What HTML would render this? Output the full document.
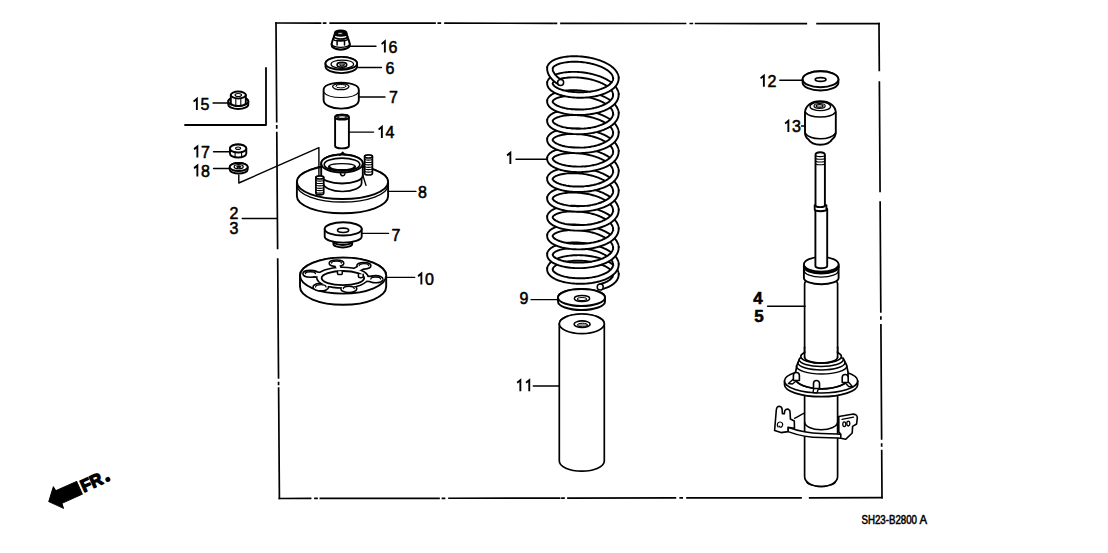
<!DOCTYPE html>
<html><head><meta charset="utf-8"><style>
html,body{margin:0;padding:0;background:#fff;}
svg{display:block;}
text{font-family:"Liberation Sans",sans-serif;fill:#000;stroke:#000;stroke-width:0.55px;}
</style></head><body>
<svg width="1108" height="553" viewBox="0 0 1108 553" stroke="#000" fill="none" stroke-linecap="round" stroke-linejoin="round">
<rect x="0" y="0" width="1108" height="553" fill="#fff" stroke="none"/>
<path d="M276.00,23.00 L320.50,23.05 M323.60,23.06 L325.60,23.06 M330.20,23.06 L435.00,23.18 M438.30,23.19 L440.30,23.19 M445.00,23.20 L552.60,23.32 M554.40,23.32 L556.40,23.33 M561.00,23.33 L685.50,23.48 M690.30,23.48 L692.30,23.48 M695.60,23.49 L806.30,23.62 M817.10,23.63 L879.00,23.70 " stroke-width="1.7" fill="none" stroke-linecap="square"/>
<path d="M279.40,498.50 L310.60,498.46 M315.00,498.45 L317.00,498.45 M320.40,498.45 L439.00,498.29 M442.50,498.28 L444.50,498.28 M449.00,498.27 L559.60,498.13 M562.00,498.12 L564.00,498.12 M568.00,498.12 L675.40,497.97 M680.20,497.97 L682.20,497.97 M687.00,497.96 L801.00,497.81 M809.70,497.80 L882.00,497.70 " stroke-width="1.7" fill="none" stroke-linecap="square"/>
<path d="M276.00,23.00 L276.71,121.70 M276.74,125.80 L276.75,127.80 M276.78,132.60 L277.61,248.30 M277.69,259.10 L278.54,378.00 M278.57,382.50 L278.58,384.50 M278.61,388.00 L279.40,498.50 " stroke-width="1.7" fill="none" stroke-linecap="square"/>
<path d="M879.00,23.70 L879.30,70.40 M879.37,82.00 L879.90,166.00 M879.91,167.00 L879.92,169.00 M879.93,170.00 L880.06,191.30 M880.13,202.20 L880.82,311.90 M880.86,317.00 L880.87,319.00 M880.91,324.90 L881.63,439.00 M881.66,444.00 L881.67,446.00 M881.70,450.70 L882.00,497.70 " stroke-width="1.7" fill="none" stroke-linecap="square"/>
<path d="M266,68 L266,125 L185,125" stroke-width="1.8" fill="none"/>
<path d="M228.3,101.5 L228.3,104.5 A10,4.5 0 0 0 248.3,104.5 L248.3,101.5 A10,4.5 0 0 0 228.3,101.5 Z" stroke-width="1.9" fill="#fff"/><ellipse cx="238.3" cy="101.5" rx="10" ry="4.5" stroke-width="1.9" fill="#fff"/>
<path d="M230.8,95 L230.8,103 A7.5,3 0 0 0 245.8,103 L245.8,95 Z" stroke-width="1.9" fill="#fff"/>
<ellipse cx="238.3" cy="95" rx="7.5" ry="3.5" stroke-width="1.9" fill="#fff"/>
<ellipse cx="238.3" cy="95" rx="3.2" ry="1.5" stroke-width="1.2" fill="#fff"/>
<path d="M235.8,98.5 L235.8,105.5 M240.8,98.5 L240.8,105.5" stroke-width="1.1" fill="none"/>
<path d="M229.9,148.5 L229.9,153.5 A8.2,4 0 0 0 246.3,153.5 L246.3,148.5 A8.2,4 0 0 0 229.9,148.5 Z" stroke-width="1.9" fill="#fff"/><ellipse cx="238.1" cy="148.5" rx="8.2" ry="4" stroke-width="1.9" fill="#fff"/>
<ellipse cx="238.1" cy="148.2" rx="2.5" ry="1.2" stroke-width="1.1" fill="#fff"/>
<path d="M235.1,151.5 L235.1,157 M241.6,151.5 L241.6,157" stroke-width="1.1" fill="none"/>
<path d="M229.7,167 L229.7,169.5 A9,4 0 0 0 247.7,169.5 L247.7,167 A9,4 0 0 0 229.7,167 Z" stroke-width="1.9" fill="#fff"/><ellipse cx="238.7" cy="167" rx="9" ry="4" stroke-width="1.9" fill="#fff"/>
<ellipse cx="238.7" cy="166.8" rx="4.5" ry="2.1" stroke-width="1.3" fill="#fff"/>
<ellipse cx="238.7" cy="166.8" rx="2" ry="1" stroke-width="1.0" fill="#000"/>
<path d="M334.9,33.5 C334.2,37 332.2,40 331.5,44.5 A9.2,5.2 0 0 0 349.9,44.5 C349.2,40 347.2,37 346.5,33.5 Z" stroke-width="2.0" fill="#fff"/>
<ellipse cx="340.7" cy="33.2" rx="5.8" ry="2.6" stroke-width="2.0" fill="#000"/>
<ellipse cx="340.4" cy="33.4" rx="2.6" ry="0.9" stroke-width="0.8" fill="#fff"/>
<path d="M333.8,36.4 A6.9,2.6 0 0 0 347.6,36.4" stroke-width="1.6" fill="none"/>
<path d="M333.1,38.6 A7.6,2.6 0 0 0 348.3,38.6" stroke-width="1.3" fill="none"/>
<path d="M331.7,44.2 A9,3.2 0 0 0 349.7,44.2" stroke-width="1.4" fill="none"/>
<path d="M331.6,46 A9.1,3.3 0 0 0 349.8,46" stroke-width="1.3" fill="none"/>
<path d="M337.09999999999997,40.2 L337.09999999999997,45 M344.5,40.2 L344.5,45 M337.09999999999997,40.3 L344.5,40.3" stroke-width="1.5" fill="none"/>
<path d="M325.5,63.4 L325.5,66.6 A15.8,6.5 0 0 0 357.1,66.6 L357.1,63.4 A15.8,6.5 0 0 0 325.5,63.4 Z" stroke-width="1.9" fill="#fff"/><ellipse cx="341.3" cy="63.4" rx="15.8" ry="6.5" stroke-width="1.9" fill="#fff"/>
<ellipse cx="342.3" cy="64.2" rx="11.3" ry="4.1" stroke-width="1.2" fill="#fff"/>
<ellipse cx="341.9" cy="64.7" rx="4.8" ry="2.4" stroke-width="1.7" fill="#fff"/>
<ellipse cx="341.9" cy="64.9" rx="2.6" ry="0.9" stroke-width="1.0" fill="#fff"/>
<path d="M323.59999999999997,90 C323.59999999999997,86 329.2,83 341.2,82.6 C353.2,83 358.8,86 358.8,90 L358.8,100 C358.8,105 351.2,108.6 341.2,108.6 C331.2,108.6 323.59999999999997,105 323.59999999999997,100 Z" stroke-width="1.9" fill="#fff"/>
<path d="M323.59999999999997,92 C326.2,96 333.2,97.5 341.2,97.5 C349.2,97.5 356.2,96 358.8,92" stroke-width="1.2" fill="none"/>
<ellipse cx="340.8" cy="86.6" rx="8.2" ry="3.1" stroke-width="1.3" fill="#fff"/>
<ellipse cx="340.8" cy="86.2" rx="5" ry="1.7" stroke-width="1.0" fill="#fff"/>
<path d="M335.1,117.2 L335.1,146 A6.9,2.4 0 0 0 348.9,146 L348.9,117.2 A6.9,2.4 0 0 0 335.1,117.2 Z" stroke-width="1.9" fill="#fff"/><ellipse cx="342" cy="117.2" rx="6.9" ry="2.4" stroke-width="1.9" fill="#fff"/>
<ellipse cx="342" cy="117" rx="4.3" ry="1.4" stroke-width="1.2" fill="#fff"/>
<path d="M296.9,182 L296.9,196.3 A45.6,17 0 0 0 388.1,196.3 L388.1,182 A45.6,17 0 0 0 296.9,182 Z" stroke-width="1.9" fill="#fff"/><ellipse cx="342.5" cy="182" rx="45.6" ry="17" stroke-width="1.9" fill="#fff"/>
<path d="M296.9,185 A45.6,17 0 0 0 388.1,185" stroke-width="1.3" fill="none"/>
<path d="M323.2,178 L323.2,183 A19.2,8.5 0 0 0 361.6,183 L361.6,178 Z" stroke-width="1.7" fill="#fff"/>
<path d="M321.2,163.5 L321.2,175.5 A20.8,8 0 0 0 362.8,175.5 L362.8,163.5 A20.8,9 0 0 0 321.2,163.5 Z" stroke-width="1.9" fill="#fff"/><ellipse cx="342" cy="163.5" rx="20.8" ry="9" stroke-width="1.9" fill="#fff"/>
<ellipse cx="342" cy="164.5" rx="17.8" ry="6.4" stroke-width="1.6" fill="#fff"/>
<path d="M329.5,167.3 A12.5,3 0 0 0 354.5,167.3" stroke-width="2.6" fill="none"/>
<path d="M328.5,166.8 A13.5,3.2 0 0 1 355.5,166.8" stroke-width="1.2" fill="none"/>
<path d="M339.8,155.2 L342.7,152.2 L345.2,155" stroke-width="1.4" fill="none"/>
<path d="M340.4,173.5 C341,176.5 344.5,176.5 345,173.5" stroke-width="1.4" fill="none"/>
<path d="M362.8,175.3 L366,185.4" stroke-width="1.4" fill="none"/>
<path d="M364.6,156.5 L364.6,173.5 A3.9,1.5 0 0 0 372.4,173.5 L372.4,156.5 A3.9,1.5 0 0 0 364.6,156.5 Z" stroke-width="1.7" fill="#fff"/><ellipse cx="368.5" cy="156.5" rx="3.9" ry="1.5" stroke-width="1.7" fill="#fff"/>
<path d="M364.6,159 A3.9,1.1 0 0 0 372.4,159" stroke-width="1.2" fill="none"/>
<path d="M364.6,161.4 A3.9,1.1 0 0 0 372.4,161.4" stroke-width="1.2" fill="none"/>
<path d="M364.6,163.8 A3.9,1.1 0 0 0 372.4,163.8" stroke-width="1.2" fill="none"/>
<path d="M364.6,166.2 A3.9,1.1 0 0 0 372.4,166.2" stroke-width="1.2" fill="none"/>
<path d="M364.6,168.6 A3.9,1.1 0 0 0 372.4,168.6" stroke-width="1.2" fill="none"/>
<path d="M364.6,171 A3.9,1.1 0 0 0 372.4,171" stroke-width="1.2" fill="none"/>
<path d="M315.9,177.5 L315.9,193.3 A3.9,1.5 0 0 0 323.7,193.3 L323.7,177.5 A3.9,1.5 0 0 0 315.9,177.5 Z" stroke-width="1.7" fill="#fff"/><ellipse cx="319.8" cy="177.5" rx="3.9" ry="1.5" stroke-width="1.7" fill="#fff"/>
<path d="M315.9,180 A3.9,1.1 0 0 0 323.7,180" stroke-width="1.2" fill="none"/>
<path d="M315.9,182.4 A3.9,1.1 0 0 0 323.7,182.4" stroke-width="1.2" fill="none"/>
<path d="M315.9,184.8 A3.9,1.1 0 0 0 323.7,184.8" stroke-width="1.2" fill="none"/>
<path d="M315.9,187.2 A3.9,1.1 0 0 0 323.7,187.2" stroke-width="1.2" fill="none"/>
<path d="M315.9,189.6 A3.9,1.1 0 0 0 323.7,189.6" stroke-width="1.2" fill="none"/>
<path d="M315.9,192 A3.9,1.1 0 0 0 323.7,192" stroke-width="1.2" fill="none"/>
<path d="M333.4,241.5 L333.4,244 A9.4,3.5 0 0 0 352.2,244 L352.2,241.5 A9.4,3.5 0 0 0 333.4,241.5 Z" stroke-width="1.9" fill="#fff"/><ellipse cx="342.8" cy="241.5" rx="9.4" ry="3.5" stroke-width="1.9" fill="#fff"/>
<path d="M324.7,229 L324.7,236.5 A18.5,6.1 0 0 0 361.7,236.5 L361.7,229 Z" stroke-width="1.9" fill="#fff"/>
<ellipse cx="343.2" cy="228.9" rx="18.5" ry="6.6" stroke-width="1.9" fill="#fff"/>
<ellipse cx="343.1" cy="230.3" rx="5.6" ry="2.2" stroke-width="1.6" fill="#fff"/>
<path d="M300,275.6 L300,286.8 A43.1,18 0 0 0 386.2,286.8 L386.2,275.6 A43.1,18 0 0 0 300,275.6 Z" stroke-width="1.9" fill="#fff"/><ellipse cx="343.1" cy="275.6" rx="43.1" ry="18" stroke-width="1.9" fill="#fff"/>
<ellipse cx="342.5" cy="277.6" rx="25" ry="9.6" fill="#000" stroke="#000" stroke-width="3.2"/>
<line x1="339.20" y1="269.74" x2="336.50" y2="263.30" stroke="#000" stroke-width="6.80" stroke-linecap="butt"/>
<ellipse cx="336.5" cy="263.3" rx="6.5" ry="2.5" fill="#000" stroke="#000" stroke-width="3.2"/>
<line x1="354.27" y1="271.11" x2="363.90" y2="265.80" stroke="#000" stroke-width="6.80" stroke-linecap="butt"/>
<ellipse cx="363.9" cy="265.8" rx="6.2" ry="2.5" fill="#000" stroke="#000" stroke-width="3.2"/>
<line x1="324.84" y1="275.51" x2="310.40" y2="273.80" stroke="#000" stroke-width="6.80" stroke-linecap="butt"/>
<ellipse cx="310.4" cy="273.8" rx="6.7" ry="2.6" fill="#000" stroke="#000" stroke-width="3.2"/>
<line x1="360.76" y1="278.48" x2="375.70" y2="279.20" stroke="#000" stroke-width="6.80" stroke-linecap="butt"/>
<ellipse cx="375.7" cy="279.2" rx="6.5" ry="2.8" fill="#000" stroke="#000" stroke-width="3.2"/>
<line x1="330.56" y1="282.83" x2="320.80" y2="287.10" stroke="#000" stroke-width="6.80" stroke-linecap="butt"/>
<ellipse cx="320.8" cy="287.1" rx="7.0" ry="3.0" fill="#000" stroke="#000" stroke-width="3.2"/>
<line x1="345.97" y1="283.70" x2="348.80" y2="288.70" stroke="#000" stroke-width="6.80" stroke-linecap="butt"/>
<ellipse cx="348.8" cy="288.7" rx="7.2" ry="3.0" fill="#000" stroke="#000" stroke-width="3.2"/>
<ellipse cx="342.5" cy="277.6" rx="25" ry="9.6" fill="#fff" stroke="none"/>
<line x1="339.20" y1="269.74" x2="336.50" y2="263.30" stroke="#fff" stroke-width="3.6" stroke-linecap="butt"/>
<ellipse cx="336.5" cy="263.3" rx="6.5" ry="2.5" fill="#fff" stroke="none"/>
<line x1="354.27" y1="271.11" x2="363.90" y2="265.80" stroke="#fff" stroke-width="3.6" stroke-linecap="butt"/>
<ellipse cx="363.9" cy="265.8" rx="6.2" ry="2.5" fill="#fff" stroke="none"/>
<line x1="324.84" y1="275.51" x2="310.40" y2="273.80" stroke="#fff" stroke-width="3.6" stroke-linecap="butt"/>
<ellipse cx="310.4" cy="273.8" rx="6.7" ry="2.6" fill="#fff" stroke="none"/>
<line x1="360.76" y1="278.48" x2="375.70" y2="279.20" stroke="#fff" stroke-width="3.6" stroke-linecap="butt"/>
<ellipse cx="375.7" cy="279.2" rx="6.5" ry="2.8" fill="#fff" stroke="none"/>
<line x1="330.56" y1="282.83" x2="320.80" y2="287.10" stroke="#fff" stroke-width="3.6" stroke-linecap="butt"/>
<ellipse cx="320.8" cy="287.1" rx="7.0" ry="3.0" fill="#fff" stroke="none"/>
<line x1="345.97" y1="283.70" x2="348.80" y2="288.70" stroke="#fff" stroke-width="3.6" stroke-linecap="butt"/>
<ellipse cx="348.8" cy="288.7" rx="7.2" ry="3.0" fill="#fff" stroke="none"/>
<path d="M331.62,263.10 A4.88,1.88 0 0 1 341.38,263.10" stroke-width="1.3" fill="none"/>
<path d="M359.25,265.60 A4.65,1.88 0 0 1 368.55,265.60" stroke-width="1.3" fill="none"/>
<path d="M305.38,273.60 A5.03,1.95 0 0 1 315.42,273.60" stroke-width="1.3" fill="none"/>
<path d="M370.82,279.00 A4.88,2.10 0 0 1 380.57,279.00" stroke-width="1.3" fill="none"/>
<path d="M315.55,286.90 A5.25,2.25 0 0 1 326.05,286.90" stroke-width="1.3" fill="none"/>
<path d="M343.40,288.50 A5.40,2.25 0 0 1 354.20,288.50" stroke-width="1.3" fill="none"/>
<ellipse cx="342.9" cy="278.1" rx="21.3" ry="7.1" stroke-width="1.8" fill="#fff"/>
<path d="M337.5,271.2 L337.5,273.4 A2.4,1.2 0 0 0 342.29999999999995,273.4 L342.29999999999995,271.2" stroke-width="1.5" fill="#fff"/>
<path d="M358.40000000000003,274.3 L358.40000000000003,276.5 A2.4,1.2 0 0 0 363.2,276.5 L363.2,274.3" stroke-width="1.5" fill="#fff"/>
<path d="M558,297.5 L558,301.5 A23.5,8.5 0 0 0 605,301.5 L605,297.5 A23.5,8.5 0 0 0 558,297.5 Z" stroke-width="1.9" fill="#fff"/><ellipse cx="581.5" cy="297.5" rx="23.5" ry="8.5" stroke-width="1.9" fill="#fff"/>
<ellipse cx="582" cy="298.5" rx="7.7" ry="3" stroke-width="1.4" fill="#fff"/>
<ellipse cx="582" cy="299" rx="4.5" ry="1.5" stroke-width="1.1" fill="#fff"/>
<path d="M559.3,323.8 L559.3,461 A22.5,10.2 0 0 0 604.3,461 L604.3,323.8 A22.5,9.8 0 0 0 559.3,323.8 Z" stroke-width="1.7" fill="#fff"/><ellipse cx="581.8" cy="323.8" rx="22.5" ry="9.8" stroke-width="1.7" fill="#fff"/>
<ellipse cx="582.1" cy="324.2" rx="8" ry="3.3" stroke-width="1.6" fill="#fff"/>
<ellipse cx="582.4" cy="325" rx="5" ry="1.8" stroke-width="1.0" fill="#999"/>
<path d="M802.6,79.2 L802.6,82.5 A17.9,8 0 0 0 838.4,82.5 L838.4,79.2 A17.9,8 0 0 0 802.6,79.2 Z" stroke-width="1.9" fill="#fff"/><ellipse cx="820.5" cy="79.2" rx="17.9" ry="8" stroke-width="1.9" fill="#fff"/>
<ellipse cx="820.6" cy="79.5" rx="5.3" ry="1.9" stroke-width="1.8" fill="#fff"/>
<path d="M805,113 C805,106 811,101.2 820.3,101.2 C829.5,101.2 835.8,106 835.8,113 L835.8,132 C835.8,136 834,138 832,139.5 C830,143 826,144.7 820.3,144.7 C814.5,144.7 810.5,143 808.5,139.5 C806.5,138 805,136 805,132 Z" stroke-width="1.9" fill="#fff"/>
<ellipse cx="820.3" cy="106.4" rx="10.3" ry="4.3" stroke-width="1.3" fill="#fff"/>
<ellipse cx="819.6" cy="105.9" rx="5.6" ry="2.4" stroke-width="1.2" fill="#fff"/>
<ellipse cx="819.6" cy="105.9" rx="3.4" ry="1.2" stroke-width="1.3" fill="#fff"/>
<path d="M805,112 C808,116 814,117 820.3,117 C826.6,117 832.6,116 835.8,112" stroke-width="1.5" fill="none"/>
<path d="M805,133 C808,137.5 814,138.8 820.3,138.8 C826.6,138.8 832.6,137.5 835.8,133" stroke-width="1.5" fill="none"/>
<path d="M804.6,284 L804.6,476.4 A16.5,10.2 0 0 0 837.6,476.4 L837.6,284 A16.5,7 0 0 0 804.6,284 Z" stroke-width="1.7" fill="#fff"/>
<path d="M806.6,481.5 A14.5,4.8 0 0 0 835.6,481.5" stroke-width="1.2" fill="none"/>
<path d="M804.6,422 A16.5,7.8 0 0 0 837.6,422" stroke-width="1.5" fill="none"/>
<path d="M803.9,264.3 L803.9,278 A17.3,6.3 0 0 0 838.6,278 L838.6,264.3 Z" stroke-width="1.9" fill="#fff"/>
<path d="M804.2,266.5 A17.1,6.6 0 0 0 838.4,266.5" stroke-width="2.6" fill="none"/>
<path d="M804.2,270.5 A17.1,6.6 0 0 0 838.4,270.5" stroke-width="1.3" fill="none"/>
<ellipse cx="821.25" cy="264.3" rx="17.3" ry="7.3" stroke-width="1.7" fill="#fff"/>
<path d="M815.4,209 L815.4,266 A5.9,2.2 0 0 0 827.2,266 L827.2,209 Z" stroke-width="1.9" fill="#fff"/>
<path d="M814.7,205.3 L814.7,209.5 A5.85,1.8 0 0 0 826.4,209.5 L826.4,205.3 Z" stroke-width="1.9" fill="#fff"/>
<path d="M815.5,155 Q815.5,152.2 820.2,152.2 Q824.9,152.2 824.9,155 L824.9,205.5 A4.7,1.6 0 0 1 815.5,205.5 Z" stroke-width="1.9" fill="#fff"/>
<path d="M815.5,155.3 A4.7,1.3 0 0 0 824.9,155.3" stroke-width="1.1" fill="none"/>
<path d="M815.5,158 A4.7,1.3 0 0 0 824.9,158" stroke-width="1.1" fill="none"/>
<path d="M815.5,160.7 A4.7,1.3 0 0 0 824.9,160.7" stroke-width="1.1" fill="none"/>
<path d="M815.5,163.4 A4.7,1.3 0 0 0 824.9,163.4" stroke-width="1.1" fill="none"/>
<path d="M784.5,381 L784.5,384.5 A36.6,12.2 0 0 0 857.7,384.5 L857.7,381 Z" stroke-width="1.7" fill="#fff"/>
<ellipse cx="821.1" cy="381" rx="36.6" ry="12" stroke-width="1.7" fill="#fff"/>
<path d="M799.8,358 L797,365 L795.6,372 L795.6,378.5 A26.2,10.3 0 0 0 848,378.5 L848,372 L846.5,365 L843,358 Z" stroke-width="1.7" fill="#fff"/>
<path d="M795.6,378.5 A26.2,10.3 0 0 0 848,378.5" stroke-width="1.7" fill="none"/>
<path d="M796.3,366 A25.3,8 0 0 0 846.9,366" stroke-width="1.5" fill="none"/>
<path d="M797.8,362.5 A23.6,7.5 0 0 0 845,362.5" stroke-width="1.5" fill="none"/>
<path d="M799.2,359.5 A22,7 0 0 0 843.2,359.5" stroke-width="1.5" fill="none"/>
<ellipse cx="821.1" cy="356.5" rx="20.3" ry="6.5" stroke-width="1.7" fill="#fff"/>
<rect x="805.5" y="348" width="31.2" height="9" fill="#fff" stroke="none"/>
<path d="M804.6,347 L804.6,357 M837.6,347 L837.6,357" stroke-width="1.7" fill="none"/>
<path d="M804.6,357 A16.5,6.2 0 0 0 837.6,357" stroke-width="1.7" fill="none"/>
<path d="M794.0,378.5 L788.4,383.5 L792.4,384.0 L798.8,379.0 Z" stroke-width="1.4" fill="#fff"/>
<path d="M793.4,380.5 L793.4,375.5 A3,3 0 0 1 799.4,375.5 L799.4,380.5 Z" stroke-width="1.6" fill="#fff"/>
<path d="M814.1,386.5 L813.0,392.5 L817.0,393.0 L818.9,387.0 Z" stroke-width="1.4" fill="#fff"/>
<path d="M813.5,388.5 L813.5,383.5 A3,3 0 0 1 819.5,383.5 L819.5,388.5 Z" stroke-width="1.6" fill="#fff"/>
<path d="M842.8000000000001,380.5 L848.7,386.5 L852.7,387.0 L847.6,381.0 Z" stroke-width="1.4" fill="#fff"/>
<path d="M842.2,382.5 L842.2,377.5 A3,3 0 0 1 848.2,377.5 L848.2,382.5 Z" stroke-width="1.6" fill="#fff"/>
<path d="M788,427.3 C800,431.8 810,433.4 821,433.4 C830,433.4 836,434 840.8,434.3 L840.8,438.2 C836,438 830,437.6 821,437.6 C810,437.6 800,436 788,431.6 Z" stroke-width="1.5" fill="#fff"/>
<path d="M774.6,430.5 L776.3,410 Q776.8,406.3 779.4,406.3 Q782,406.6 782.1,409.5 L782.4,413.8 L784.3,413.8 L784.8,410.6 Q786.3,408.5 788.4,409.3 Q790.3,410.3 790.1,413 L790.4,419 L794.3,421 L794.5,428.3 L788,427.3 L788,431.6 L781,432.6 Z" stroke-width="1.6" fill="#fff"/>
<path d="M778,427 C776.5,425 777.5,422 780,422 C782.5,422 783.5,424.5 782,426.5 C781,427.5 779.5,427.5 779,426" stroke-width="1.2" fill="none"/>
<path d="M794.5,418.3 C798,416.6 801,414.8 804.4,413.2" stroke-width="1.4" fill="none"/>
<path d="M838.8,416.5 L852,414.2 Q857.2,413.8 857.3,417.6 L856.6,424 L852.6,426.4 L852.2,433 L845.6,439.3 L840.8,438.2 L840.8,434.3 L838.8,432 Z" stroke-width="1.6" fill="#fff"/>
<ellipse cx="844.3" cy="424.2" rx="1.5" ry="2.4" stroke-width="1.3" fill="#fff"/>
<ellipse cx="848.3" cy="423.6" rx="1.5" ry="2.4" stroke-width="1.3" fill="#fff"/>
<path d="M842,419.3 L853.5,417.2" stroke-width="1.3" fill="none"/>
<path d="M196.86,110.00 L196.86,98.84 L195.26,100.14 Q194.30,101.10 193.50,101.42" stroke-width="1.89" fill="none" stroke-linecap="butt" stroke-linejoin="miter"/><text x="200.40" y="110" font-size="16" font-weight="normal">5</text>
<path d="M197.36,157.60 L197.36,146.44 L195.76,147.74 Q194.80,148.70 194.00,149.02" stroke-width="1.89" fill="none" stroke-linecap="butt" stroke-linejoin="miter"/><text x="200.90" y="157.6" font-size="16" font-weight="normal">7</text>
<path d="M197.36,176.60 L197.36,165.44 L195.76,166.74 Q194.80,167.70 194.00,168.02" stroke-width="1.89" fill="none" stroke-linecap="butt" stroke-linejoin="miter"/><text x="200.90" y="176.6" font-size="16" font-weight="normal">8</text>
<text x="229.50" y="219" font-size="16" font-weight="normal">2</text>
<text x="229.50" y="234.3" font-size="16" font-weight="normal">3</text>
<path d="M384.86,52.50 L384.86,41.34 L383.26,42.64 Q382.30,43.60 381.50,43.92" stroke-width="1.89" fill="none" stroke-linecap="butt" stroke-linejoin="miter"/><text x="388.40" y="52.5" font-size="16" font-weight="normal">6</text>
<text x="385.50" y="73.5" font-size="16" font-weight="normal">6</text>
<text x="389.00" y="102.8" font-size="16" font-weight="normal">7</text>
<path d="M381.86,138.00 L381.86,126.84 L380.26,128.14 Q379.30,129.10 378.50,129.42" stroke-width="1.89" fill="none" stroke-linecap="butt" stroke-linejoin="miter"/><text x="385.40" y="138" font-size="16" font-weight="normal">4</text>
<text x="418.00" y="197.9" font-size="16" font-weight="normal">8</text>
<text x="391.50" y="241.2" font-size="16" font-weight="normal">7</text>
<path d="M421.36,284.60 L421.36,273.44 L419.76,274.74 Q418.80,275.70 418.00,276.02" stroke-width="1.89" fill="none" stroke-linecap="butt" stroke-linejoin="miter"/><text x="424.90" y="284.6" font-size="16" font-weight="normal">0</text>
<path d="M510.36,163.90 L510.36,152.74 L508.76,154.04 Q507.80,155.00 507.00,155.32" stroke-width="1.89" fill="none" stroke-linecap="butt" stroke-linejoin="miter"/>
<text x="519.50" y="304.3" font-size="16" font-weight="normal">9</text>
<path d="M520.36,391.30 L520.36,380.14 L518.76,381.44 Q517.80,382.40 517.00,382.72" stroke-width="1.89" fill="none" stroke-linecap="butt" stroke-linejoin="miter"/><path d="M529.26,391.30 L529.26,380.14 L527.66,381.44 Q526.70,382.40 525.90,382.72" stroke-width="1.89" fill="none" stroke-linecap="butt" stroke-linejoin="miter"/>
<path d="M763.86,86.80 L763.86,75.64 L762.26,76.94 Q761.30,77.90 760.50,78.22" stroke-width="1.89" fill="none" stroke-linecap="butt" stroke-linejoin="miter"/><text x="767.40" y="86.8" font-size="16" font-weight="normal">2</text>
<path d="M788.36,132.00 L788.36,120.84 L786.76,122.14 Q785.80,123.10 785.00,123.42" stroke-width="1.89" fill="none" stroke-linecap="butt" stroke-linejoin="miter"/><text x="791.90" y="132" font-size="16" font-weight="normal">3</text>
<text x="753.20" y="304.4" font-size="17" font-weight="bold">4</text>
<text x="754.30" y="322" font-size="17" font-weight="bold">5</text>
<line x1="213" y1="103" x2="228.5" y2="103" stroke-width="1.4"/>
<line x1="213.5" y1="151.8" x2="230.6" y2="151.8" stroke-width="1.4"/>
<line x1="213.5" y1="168.5" x2="230" y2="168.5" stroke-width="1.4"/>
<line x1="242.2" y1="218.5" x2="277.4" y2="218.5" stroke-width="1.4"/>
<line x1="349.8" y1="46.3" x2="376" y2="46.3" stroke-width="1.4"/>
<line x1="358" y1="67.5" x2="381.4" y2="67.5" stroke-width="1.4"/>
<line x1="358.8" y1="97" x2="385" y2="97" stroke-width="1.4"/>
<line x1="349" y1="132.1" x2="373.6" y2="132.1" stroke-width="1.4"/>
<line x1="388.1" y1="191.4" x2="415.9" y2="191.4" stroke-width="1.4"/>
<line x1="362" y1="233.4" x2="388.5" y2="233.4" stroke-width="1.4"/>
<line x1="386" y1="277.4" x2="414.7" y2="277.4" stroke-width="1.4"/>
<line x1="516" y1="159.2" x2="546.7" y2="159.2" stroke-width="1.4"/>
<line x1="531" y1="299.6" x2="558.3" y2="299.6" stroke-width="1.4"/>
<line x1="533.3" y1="386" x2="559.3" y2="386" stroke-width="1.4"/>
<line x1="779.8" y1="80.3" x2="803.3" y2="80.3" stroke-width="1.4"/>
<line x1="801.5" y1="126" x2="805" y2="126" stroke-width="1.4"/>
<line x1="767.6" y1="306.2" x2="805.1" y2="306.2" stroke-width="1.4"/>
<path d="M238.8,175 L238.8,183 L318.9,147.6 L318.9,176" stroke-width="1.4" fill="none"/>
<g transform="translate(48.3,501.8) rotate(-24.2)"><path d="M0.5,0 L10.7,-11.6 L11.4,-7 L34.2,-7 L34.2,7 L11.8,7 L11.2,12.2 Z" fill="#000" stroke="#000" stroke-width="1"/><text x="36.2" y="6" font-size="17.5" font-weight="bold" style="stroke-width:1.4px" textLength="22.3" lengthAdjust="spacingAndGlyphs">FR</text><circle cx="63.5" cy="4" r="2.5" fill="#000" stroke="none"/></g>
<text x="861.5" y="523.5" font-size="12" textLength="55.5" lengthAdjust="spacingAndGlyphs">SH23-B2800</text><text x="919.4" y="523.5" font-size="12" textLength="7.6" lengthAdjust="spacingAndGlyphs">A</text>
<path d="M549.91,269.2 L549.99,268.52 L550.17,267.84 L550.43,267.17 L550.79,266.51 L551.23,265.87 L551.76,265.23 L552.37,264.62 L553.07,264.02 L553.85,263.44 L554.7,262.88 L555.64,262.34 L556.65,261.83 L557.73,261.34 L558.89,260.89 L560.1,260.46 L561.39,260.06 L562.72,259.69 L564.12,259.35 L565.57,259.05 L567.06,258.78 L568.6,258.55 L570.17,258.35 L571.78,258.19 L573.43,258.06 L575.09,257.98 L576.78,257.93 L578.49,257.92 L580.21,257.95 L581.93,258.02 L583.66,258.13 L585.39,258.27 L587.1,258.45 L588.81,258.67 L590.5,258.93 L592.17,259.23 L593.82,259.56 L595.43,259.92 L597.02,260.32 L598.56,260.75 L600.06,261.22 L601.51,261.71 L602.91,262.24 L604.26,262.79 L605.54,263.38 L606.77,263.98 L607.93,264.61 L609.02,265.27 L610.04,265.94 L610.99,266.64 L611.85,267.35 L612.64,268.08 L613.35,268.82 L613.98,269.57 L614.51,270.33 L614.97,271.1 L615.33,271.88 L615.61,272.66 L615.79,273.44 L615.89,274.22 L615.89,275" stroke="#000" stroke-width="7.4" fill="none" stroke-linecap="butt"/>
<path d="M549.91,269.2 L549.99,268.52 L550.17,267.84 L550.43,267.17 L550.79,266.51 L551.23,265.87 L551.76,265.23 L552.37,264.62 L553.07,264.02 L553.85,263.44 L554.7,262.88 L555.64,262.34 L556.65,261.83 L557.73,261.34 L558.89,260.89 L560.1,260.46 L561.39,260.06 L562.72,259.69 L564.12,259.35 L565.57,259.05 L567.06,258.78 L568.6,258.55 L570.17,258.35 L571.78,258.19 L573.43,258.06 L575.09,257.98 L576.78,257.93 L578.49,257.92 L580.21,257.95 L581.93,258.02 L583.66,258.13 L585.39,258.27 L587.1,258.45 L588.81,258.67 L590.5,258.93 L592.17,259.23 L593.82,259.56 L595.43,259.92 L597.02,260.32 L598.56,260.75 L600.06,261.22 L601.51,261.71 L602.91,262.24 L604.26,262.79 L605.54,263.38 L606.77,263.98 L607.93,264.61 L609.02,265.27 L610.04,265.94 L610.99,266.64 L611.85,267.35 L612.64,268.08 L613.35,268.82 L613.98,269.57 L614.51,270.33 L614.97,271.1 L615.33,271.88 L615.61,272.66 L615.79,273.44 L615.89,274.22 L615.89,275" stroke="#fff" stroke-width="3.6" fill="none" stroke-linecap="butt"/>
<path d="M549.91,254.55 L549.99,253.94 L550.16,253.34 L550.42,252.75 L550.78,252.17 L551.21,251.6 L551.74,251.04 L552.35,250.5 L553.05,249.98 L553.82,249.47 L554.68,248.99 L555.62,248.53 L556.63,248.09 L557.71,247.68 L558.86,247.3 L560.07,246.95 L561.35,246.62 L562.69,246.33 L564.08,246.07 L565.53,245.84 L567.02,245.65 L568.56,245.49 L570.13,245.37 L571.74,245.29 L573.38,245.24 L575.05,245.23 L576.74,245.26 L578.44,245.32 L580.16,245.43 L581.89,245.57 L583.62,245.76 L585.34,245.98 L587.06,246.23 L588.77,246.53 L590.46,246.86 L592.13,247.23 L593.78,247.64 L595.39,248.08 L596.98,248.56 L598.52,249.06 L600.02,249.6 L601.47,250.18 L602.87,250.78 L604.22,251.41 L605.51,252.07 L606.74,252.75 L607.9,253.46 L608.99,254.19 L610.02,254.94 L610.96,255.71 L611.83,256.5 L612.62,257.3 L613.33,258.12 L613.96,258.94 L614.5,259.78 L614.96,260.63 L615.32,261.48 L615.6,262.34 L615.79,263.2 L615.88,264.05 L615.89,264.91" stroke="#000" stroke-width="7.4" fill="none" stroke-linecap="butt"/>
<path d="M549.91,254.55 L549.99,253.94 L550.16,253.34 L550.42,252.75 L550.78,252.17 L551.21,251.6 L551.74,251.04 L552.35,250.5 L553.05,249.98 L553.82,249.47 L554.68,248.99 L555.62,248.53 L556.63,248.09 L557.71,247.68 L558.86,247.3 L560.07,246.95 L561.35,246.62 L562.69,246.33 L564.08,246.07 L565.53,245.84 L567.02,245.65 L568.56,245.49 L570.13,245.37 L571.74,245.29 L573.38,245.24 L575.05,245.23 L576.74,245.26 L578.44,245.32 L580.16,245.43 L581.89,245.57 L583.62,245.76 L585.34,245.98 L587.06,246.23 L588.77,246.53 L590.46,246.86 L592.13,247.23 L593.78,247.64 L595.39,248.08 L596.98,248.56 L598.52,249.06 L600.02,249.6 L601.47,250.18 L602.87,250.78 L604.22,251.41 L605.51,252.07 L606.74,252.75 L607.9,253.46 L608.99,254.19 L610.02,254.94 L610.96,255.71 L611.83,256.5 L612.62,257.3 L613.33,258.12 L613.96,258.94 L614.5,259.78 L614.96,260.63 L615.32,261.48 L615.6,262.34 L615.79,263.2 L615.88,264.05 L615.89,264.91" stroke="#fff" stroke-width="3.6" fill="none" stroke-linecap="butt"/>
<path d="M549.91,235.78 L549.99,235.21 L550.16,234.64 L550.42,234.08 L550.77,233.53 L551.2,233 L551.73,232.47 L552.34,231.97 L553.03,231.48 L553.8,231.01 L554.66,230.56 L555.59,230.13 L556.6,229.73 L557.68,229.35 L558.83,229 L560.04,228.68 L561.32,228.39 L562.65,228.13 L564.05,227.9 L565.49,227.71 L566.98,227.55 L568.52,227.43 L570.09,227.34 L571.7,227.29 L573.34,227.27 L575.01,227.3 L576.7,227.36 L578.4,227.46 L580.12,227.6 L581.84,227.77 L583.57,227.99 L585.3,228.24 L587.02,228.53 L588.73,228.86 L590.42,229.23 L592.09,229.63 L593.74,230.07 L595.35,230.55 L596.94,231.05 L598.48,231.6 L599.98,232.17 L601.44,232.78 L602.84,233.41 L604.19,234.07 L605.48,234.77 L606.71,235.48 L607.87,236.22 L608.97,236.99 L609.99,237.77 L610.94,238.58 L611.81,239.4 L612.61,240.23 L613.32,241.08 L613.95,241.95 L614.49,242.82 L614.94,243.7 L615.31,244.59 L615.59,245.48 L615.78,246.37 L615.88,247.26 L615.89,248.15" stroke="#000" stroke-width="7.4" fill="none" stroke-linecap="butt"/>
<path d="M549.91,235.78 L549.99,235.21 L550.16,234.64 L550.42,234.08 L550.77,233.53 L551.2,233 L551.73,232.47 L552.34,231.97 L553.03,231.48 L553.8,231.01 L554.66,230.56 L555.59,230.13 L556.6,229.73 L557.68,229.35 L558.83,229 L560.04,228.68 L561.32,228.39 L562.65,228.13 L564.05,227.9 L565.49,227.71 L566.98,227.55 L568.52,227.43 L570.09,227.34 L571.7,227.29 L573.34,227.27 L575.01,227.3 L576.7,227.36 L578.4,227.46 L580.12,227.6 L581.84,227.77 L583.57,227.99 L585.3,228.24 L587.02,228.53 L588.73,228.86 L590.42,229.23 L592.09,229.63 L593.74,230.07 L595.35,230.55 L596.94,231.05 L598.48,231.6 L599.98,232.17 L601.44,232.78 L602.84,233.41 L604.19,234.07 L605.48,234.77 L606.71,235.48 L607.87,236.22 L608.97,236.99 L609.99,237.77 L610.94,238.58 L611.81,239.4 L612.61,240.23 L613.32,241.08 L613.95,241.95 L614.49,242.82 L614.94,243.7 L615.31,244.59 L615.59,245.48 L615.78,246.37 L615.88,247.26 L615.89,248.15" stroke="#fff" stroke-width="3.6" fill="none" stroke-linecap="butt"/>
<path d="M549.91,217.09 L549.98,216.52 L550.15,215.95 L550.41,215.39 L550.76,214.84 L551.19,214.31 L551.71,213.78 L552.32,213.27 L553.01,212.78 L553.78,212.31 L554.64,211.86 L555.57,211.43 L556.57,211.03 L557.65,210.65 L558.8,210.3 L560.01,209.98 L561.28,209.68 L562.62,209.42 L564.01,209.19 L565.45,209 L566.94,208.84 L568.48,208.71 L570.05,208.62 L571.66,208.57 L573.3,208.55 L574.96,208.57 L576.65,208.63 L578.36,208.73 L580.07,208.87 L581.8,209.04 L583.53,209.26 L585.25,209.51 L586.97,209.8 L588.68,210.13 L590.37,210.49 L592.05,210.89 L593.69,211.33 L595.31,211.8 L596.9,212.31 L598.44,212.85 L599.94,213.42 L601.4,214.03 L602.8,214.66 L604.15,215.32 L605.45,216.01 L606.68,216.73 L607.84,217.47 L608.94,218.23 L609.97,219.01 L610.92,219.81 L611.79,220.63 L612.59,221.47 L613.3,222.32 L613.93,223.18 L614.48,224.05 L614.93,224.93 L615.31,225.82 L615.59,226.71 L615.78,227.6 L615.88,228.49 L615.89,229.38" stroke="#000" stroke-width="7.4" fill="none" stroke-linecap="butt"/>
<path d="M549.91,217.09 L549.98,216.52 L550.15,215.95 L550.41,215.39 L550.76,214.84 L551.19,214.31 L551.71,213.78 L552.32,213.27 L553.01,212.78 L553.78,212.31 L554.64,211.86 L555.57,211.43 L556.57,211.03 L557.65,210.65 L558.8,210.3 L560.01,209.98 L561.28,209.68 L562.62,209.42 L564.01,209.19 L565.45,209 L566.94,208.84 L568.48,208.71 L570.05,208.62 L571.66,208.57 L573.3,208.55 L574.96,208.57 L576.65,208.63 L578.36,208.73 L580.07,208.87 L581.8,209.04 L583.53,209.26 L585.25,209.51 L586.97,209.8 L588.68,210.13 L590.37,210.49 L592.05,210.89 L593.69,211.33 L595.31,211.8 L596.9,212.31 L598.44,212.85 L599.94,213.42 L601.4,214.03 L602.8,214.66 L604.15,215.32 L605.45,216.01 L606.68,216.73 L607.84,217.47 L608.94,218.23 L609.97,219.01 L610.92,219.81 L611.79,220.63 L612.59,221.47 L613.3,222.32 L613.93,223.18 L614.48,224.05 L614.93,224.93 L615.31,225.82 L615.59,226.71 L615.78,227.6 L615.88,228.49 L615.89,229.38" stroke="#fff" stroke-width="3.6" fill="none" stroke-linecap="butt"/>
<path d="M549.9,198.31 L549.98,197.74 L550.15,197.17 L550.4,196.61 L550.75,196.06 L551.18,195.52 L551.7,195 L552.3,194.49 L552.99,194 L553.76,193.53 L554.61,193.08 L555.54,192.65 L556.55,192.25 L557.62,191.87 L558.77,191.52 L559.98,191.2 L561.25,190.91 L562.58,190.64 L563.97,190.42 L565.41,190.22 L566.9,190.06 L568.44,189.93 L570.01,189.84 L571.62,189.79 L573.26,189.77 L574.92,189.79 L576.61,189.85 L578.31,189.95 L580.03,190.09 L581.75,190.26 L583.48,190.48 L585.21,190.73 L586.93,191.02 L588.64,191.34 L590.33,191.71 L592,192.11 L593.65,192.55 L595.27,193.02 L596.86,193.53 L598.4,194.07 L599.91,194.64 L601.36,195.24 L602.77,195.88 L604.12,196.54 L605.41,197.23 L606.65,197.95 L607.81,198.69 L608.91,199.45 L609.94,200.23 L610.89,201.03 L611.77,201.85 L612.57,202.69 L613.28,203.54 L613.92,204.4 L614.46,205.27 L614.92,206.15 L615.3,207.04 L615.58,207.93 L615.78,208.82 L615.88,209.72 L615.89,210.61" stroke="#000" stroke-width="7.4" fill="none" stroke-linecap="butt"/>
<path d="M549.9,198.31 L549.98,197.74 L550.15,197.17 L550.4,196.61 L550.75,196.06 L551.18,195.52 L551.7,195 L552.3,194.49 L552.99,194 L553.76,193.53 L554.61,193.08 L555.54,192.65 L556.55,192.25 L557.62,191.87 L558.77,191.52 L559.98,191.2 L561.25,190.91 L562.58,190.64 L563.97,190.42 L565.41,190.22 L566.9,190.06 L568.44,189.93 L570.01,189.84 L571.62,189.79 L573.26,189.77 L574.92,189.79 L576.61,189.85 L578.31,189.95 L580.03,190.09 L581.75,190.26 L583.48,190.48 L585.21,190.73 L586.93,191.02 L588.64,191.34 L590.33,191.71 L592,192.11 L593.65,192.55 L595.27,193.02 L596.86,193.53 L598.4,194.07 L599.91,194.64 L601.36,195.24 L602.77,195.88 L604.12,196.54 L605.41,197.23 L606.65,197.95 L607.81,198.69 L608.91,199.45 L609.94,200.23 L610.89,201.03 L611.77,201.85 L612.57,202.69 L613.28,203.54 L613.92,204.4 L614.46,205.27 L614.92,206.15 L615.3,207.04 L615.58,207.93 L615.78,208.82 L615.88,209.72 L615.89,210.61" stroke="#fff" stroke-width="3.6" fill="none" stroke-linecap="butt"/>
<path d="M549.9,178.83 L549.98,178.26 L550.14,177.7 L550.39,177.14 L550.74,176.6 L551.17,176.07 L551.68,175.55 L552.29,175.05 L552.97,174.56 L553.74,174.1 L554.59,173.65 L555.52,173.23 L556.52,172.83 L557.59,172.46 L558.74,172.11 L559.95,171.79 L561.22,171.51 L562.55,171.25 L563.94,171.03 L565.38,170.84 L566.87,170.68 L568.4,170.56 L569.97,170.47 L571.58,170.43 L573.21,170.41 L574.88,170.44 L576.57,170.51 L578.27,170.61 L579.99,170.75 L581.71,170.93 L583.44,171.15 L585.16,171.4 L586.89,171.7 L588.59,172.03 L590.29,172.4 L591.96,172.81 L593.61,173.25 L595.23,173.73 L596.82,174.24 L598.36,174.78 L599.87,175.36 L601.33,175.97 L602.73,176.61 L604.09,177.28 L605.38,177.97 L606.62,178.69 L607.78,179.44 L608.89,180.2 L609.91,180.99 L610.87,181.8 L611.75,182.63 L612.55,183.47 L613.27,184.32 L613.9,185.19 L614.45,186.07 L614.91,186.95 L615.29,187.85 L615.58,188.74 L615.77,189.64 L615.88,190.54 L615.9,191.43" stroke="#000" stroke-width="7.4" fill="none" stroke-linecap="butt"/>
<path d="M549.9,178.83 L549.98,178.26 L550.14,177.7 L550.39,177.14 L550.74,176.6 L551.17,176.07 L551.68,175.55 L552.29,175.05 L552.97,174.56 L553.74,174.1 L554.59,173.65 L555.52,173.23 L556.52,172.83 L557.59,172.46 L558.74,172.11 L559.95,171.79 L561.22,171.51 L562.55,171.25 L563.94,171.03 L565.38,170.84 L566.87,170.68 L568.4,170.56 L569.97,170.47 L571.58,170.43 L573.21,170.41 L574.88,170.44 L576.57,170.51 L578.27,170.61 L579.99,170.75 L581.71,170.93 L583.44,171.15 L585.16,171.4 L586.89,171.7 L588.59,172.03 L590.29,172.4 L591.96,172.81 L593.61,173.25 L595.23,173.73 L596.82,174.24 L598.36,174.78 L599.87,175.36 L601.33,175.97 L602.73,176.61 L604.09,177.28 L605.38,177.97 L606.62,178.69 L607.78,179.44 L608.89,180.2 L609.91,180.99 L610.87,181.8 L611.75,182.63 L612.55,183.47 L613.27,184.32 L613.9,185.19 L614.45,186.07 L614.91,186.95 L615.29,187.85 L615.58,188.74 L615.77,189.64 L615.88,190.54 L615.9,191.43" stroke="#fff" stroke-width="3.6" fill="none" stroke-linecap="butt"/>
<path d="M549.9,158.64 L549.97,158.08 L550.13,157.52 L550.39,156.98 L550.73,156.44 L551.15,155.91 L551.67,155.4 L552.27,154.9 L552.95,154.42 L553.72,153.96 L554.57,153.52 L555.49,153.11 L556.49,152.71 L557.56,152.34 L558.71,152 L559.91,151.69 L561.18,151.41 L562.52,151.16 L563.9,150.94 L565.34,150.75 L566.83,150.6 L568.36,150.49 L569.93,150.41 L571.53,150.36 L573.17,150.36 L574.84,150.39 L576.52,150.46 L578.23,150.56 L579.94,150.71 L581.67,150.89 L583.39,151.12 L585.12,151.38 L586.84,151.68 L588.55,152.02 L590.25,152.39 L591.92,152.8 L593.57,153.25 L595.19,153.73 L596.77,154.25 L598.32,154.8 L599.83,155.38 L601.29,155.99 L602.7,156.64 L604.05,157.31 L605.35,158.01 L606.59,158.74 L607.76,159.49 L608.86,160.26 L609.89,161.05 L610.85,161.87 L611.73,162.7 L612.53,163.55 L613.25,164.41 L613.88,165.28 L614.44,166.16 L614.9,167.05 L615.28,167.95 L615.57,168.85 L615.77,169.76 L615.88,170.66 L615.9,171.56" stroke="#000" stroke-width="7.4" fill="none" stroke-linecap="butt"/>
<path d="M549.9,158.64 L549.97,158.08 L550.13,157.52 L550.39,156.98 L550.73,156.44 L551.15,155.91 L551.67,155.4 L552.27,154.9 L552.95,154.42 L553.72,153.96 L554.57,153.52 L555.49,153.11 L556.49,152.71 L557.56,152.34 L558.71,152 L559.91,151.69 L561.18,151.41 L562.52,151.16 L563.9,150.94 L565.34,150.75 L566.83,150.6 L568.36,150.49 L569.93,150.41 L571.53,150.36 L573.17,150.36 L574.84,150.39 L576.52,150.46 L578.23,150.56 L579.94,150.71 L581.67,150.89 L583.39,151.12 L585.12,151.38 L586.84,151.68 L588.55,152.02 L590.25,152.39 L591.92,152.8 L593.57,153.25 L595.19,153.73 L596.77,154.25 L598.32,154.8 L599.83,155.38 L601.29,155.99 L602.7,156.64 L604.05,157.31 L605.35,158.01 L606.59,158.74 L607.76,159.49 L608.86,160.26 L609.89,161.05 L610.85,161.87 L611.73,162.7 L612.53,163.55 L613.25,164.41 L613.88,165.28 L614.44,166.16 L614.9,167.05 L615.28,167.95 L615.57,168.85 L615.77,169.76 L615.88,170.66 L615.9,171.56" stroke="#fff" stroke-width="3.6" fill="none" stroke-linecap="butt"/>
<path d="M549.9,139.65 L549.97,139.08 L550.13,138.52 L550.38,137.96 L550.72,137.41 L551.14,136.87 L551.65,136.35 L552.25,135.84 L552.94,135.35 L553.7,134.88 L554.55,134.43 L555.47,134 L556.47,133.6 L557.54,133.22 L558.68,132.87 L559.88,132.55 L561.15,132.25 L562.48,131.99 L563.87,131.76 L565.3,131.57 L566.79,131.4 L568.32,131.28 L569.89,131.19 L571.49,131.13 L573.13,131.11 L574.79,131.13 L576.48,131.19 L578.18,131.29 L579.9,131.42 L581.62,131.6 L583.35,131.81 L585.08,132.06 L586.8,132.35 L588.51,132.67 L590.2,133.04 L591.88,133.44 L593.53,133.87 L595.15,134.35 L596.73,134.85 L598.28,135.39 L599.79,135.96 L601.25,136.57 L602.66,137.2 L604.02,137.86 L605.32,138.55 L606.55,139.26 L607.73,140 L608.83,140.77 L609.86,141.55 L610.82,142.35 L611.7,143.17 L612.51,144.01 L613.23,144.86 L613.87,145.72 L614.42,146.6 L614.89,147.48 L615.27,148.37 L615.56,149.26 L615.76,150.15 L615.88,151.05 L615.9,151.94" stroke="#000" stroke-width="7.4" fill="none" stroke-linecap="butt"/>
<path d="M549.9,139.65 L549.97,139.08 L550.13,138.52 L550.38,137.96 L550.72,137.41 L551.14,136.87 L551.65,136.35 L552.25,135.84 L552.94,135.35 L553.7,134.88 L554.55,134.43 L555.47,134 L556.47,133.6 L557.54,133.22 L558.68,132.87 L559.88,132.55 L561.15,132.25 L562.48,131.99 L563.87,131.76 L565.3,131.57 L566.79,131.4 L568.32,131.28 L569.89,131.19 L571.49,131.13 L573.13,131.11 L574.79,131.13 L576.48,131.19 L578.18,131.29 L579.9,131.42 L581.62,131.6 L583.35,131.81 L585.08,132.06 L586.8,132.35 L588.51,132.67 L590.2,133.04 L591.88,133.44 L593.53,133.87 L595.15,134.35 L596.73,134.85 L598.28,135.39 L599.79,135.96 L601.25,136.57 L602.66,137.2 L604.02,137.86 L605.32,138.55 L606.55,139.26 L607.73,140 L608.83,140.77 L609.86,141.55 L610.82,142.35 L611.7,143.17 L612.51,144.01 L613.23,144.86 L613.87,145.72 L614.42,146.6 L614.89,147.48 L615.27,148.37 L615.56,149.26 L615.76,150.15 L615.88,151.05 L615.9,151.94" stroke="#fff" stroke-width="3.6" fill="none" stroke-linecap="butt"/>
<path d="M549.9,120.87 L549.97,120.29 L550.12,119.73 L550.37,119.17 L550.71,118.62 L551.13,118.08 L551.64,117.55 L552.24,117.04 L552.92,116.55 L553.68,116.08 L554.52,115.63 L555.44,115.19 L556.44,114.79 L557.51,114.41 L558.65,114.05 L559.85,113.73 L561.12,113.43 L562.45,113.17 L563.83,112.94 L565.27,112.74 L566.75,112.57 L568.28,112.44 L569.85,112.35 L571.45,112.29 L573.09,112.27 L574.75,112.29 L576.43,112.35 L578.14,112.44 L579.85,112.57 L581.58,112.74 L583.31,112.95 L585.03,113.2 L586.75,113.49 L588.46,113.81 L590.16,114.17 L591.83,114.57 L593.48,115 L595.11,115.47 L596.69,115.97 L598.24,116.51 L599.75,117.08 L601.22,117.68 L602.63,118.31 L603.98,118.97 L605.28,119.66 L606.52,120.37 L607.7,121.11 L608.8,121.87 L609.84,122.65 L610.8,123.45 L611.68,124.27 L612.49,125.1 L613.21,125.95 L613.85,126.81 L614.41,127.68 L614.88,128.56 L615.26,129.45 L615.56,130.34 L615.76,131.23 L615.87,132.12 L615.9,133.01" stroke="#000" stroke-width="7.4" fill="none" stroke-linecap="butt"/>
<path d="M549.9,120.87 L549.97,120.29 L550.12,119.73 L550.37,119.17 L550.71,118.62 L551.13,118.08 L551.64,117.55 L552.24,117.04 L552.92,116.55 L553.68,116.08 L554.52,115.63 L555.44,115.19 L556.44,114.79 L557.51,114.41 L558.65,114.05 L559.85,113.73 L561.12,113.43 L562.45,113.17 L563.83,112.94 L565.27,112.74 L566.75,112.57 L568.28,112.44 L569.85,112.35 L571.45,112.29 L573.09,112.27 L574.75,112.29 L576.43,112.35 L578.14,112.44 L579.85,112.57 L581.58,112.74 L583.31,112.95 L585.03,113.2 L586.75,113.49 L588.46,113.81 L590.16,114.17 L591.83,114.57 L593.48,115 L595.11,115.47 L596.69,115.97 L598.24,116.51 L599.75,117.08 L601.22,117.68 L602.63,118.31 L603.98,118.97 L605.28,119.66 L606.52,120.37 L607.7,121.11 L608.8,121.87 L609.84,122.65 L610.8,123.45 L611.68,124.27 L612.49,125.1 L613.21,125.95 L613.85,126.81 L614.41,127.68 L614.88,128.56 L615.26,129.45 L615.56,130.34 L615.76,131.23 L615.87,132.12 L615.9,133.01" stroke="#fff" stroke-width="3.6" fill="none" stroke-linecap="butt"/>
<path d="M549.9,101.38 L549.97,100.82 L550.12,100.25 L550.36,99.7 L550.7,99.16 L551.12,98.62 L551.63,98.1 L552.22,97.6 L552.9,97.11 L553.66,96.64 L554.5,96.2 L555.42,95.77 L556.41,95.37 L557.48,94.99 L558.62,94.65 L559.82,94.33 L561.08,94.04 L562.41,93.78 L563.79,93.55 L565.23,93.36 L566.71,93.2 L568.24,93.07 L569.81,92.98 L571.41,92.93 L573.04,92.91 L574.71,92.94 L576.39,93 L578.09,93.1 L579.81,93.23 L581.53,93.41 L583.26,93.62 L584.99,93.88 L586.71,94.17 L588.42,94.49 L590.12,94.86 L591.79,95.26 L593.44,95.7 L595.07,96.18 L596.65,96.68 L598.21,97.23 L599.72,97.8 L601.18,98.41 L602.59,99.04 L603.95,99.71 L605.25,100.4 L606.49,101.12 L607.67,101.86 L608.78,102.62 L609.81,103.41 L610.78,104.22 L611.66,105.04 L612.47,105.88 L613.2,106.74 L613.84,107.6 L614.4,108.48 L614.87,109.36 L615.25,110.25 L615.55,111.15 L615.76,112.05 L615.87,112.95 L615.9,113.84" stroke="#000" stroke-width="7.4" fill="none" stroke-linecap="butt"/>
<path d="M549.9,101.38 L549.97,100.82 L550.12,100.25 L550.36,99.7 L550.7,99.16 L551.12,98.62 L551.63,98.1 L552.22,97.6 L552.9,97.11 L553.66,96.64 L554.5,96.2 L555.42,95.77 L556.41,95.37 L557.48,94.99 L558.62,94.65 L559.82,94.33 L561.08,94.04 L562.41,93.78 L563.79,93.55 L565.23,93.36 L566.71,93.2 L568.24,93.07 L569.81,92.98 L571.41,92.93 L573.04,92.91 L574.71,92.94 L576.39,93 L578.09,93.1 L579.81,93.23 L581.53,93.41 L583.26,93.62 L584.99,93.88 L586.71,94.17 L588.42,94.49 L590.12,94.86 L591.79,95.26 L593.44,95.7 L595.07,96.18 L596.65,96.68 L598.21,97.23 L599.72,97.8 L601.18,98.41 L602.59,99.04 L603.95,99.71 L605.25,100.4 L606.49,101.12 L607.67,101.86 L608.78,102.62 L609.81,103.41 L610.78,104.22 L611.66,105.04 L612.47,105.88 L613.2,106.74 L613.84,107.6 L614.4,108.48 L614.87,109.36 L615.25,110.25 L615.55,111.15 L615.76,112.05 L615.87,112.95 L615.9,113.84" stroke="#fff" stroke-width="3.6" fill="none" stroke-linecap="butt"/>
<path d="M549.9,83.4 L549.96,82.82 L550.11,82.24 L550.36,81.67 L550.69,81.12 L551.11,80.57 L551.61,80.04 L552.2,79.52 L552.88,79.02 L553.64,78.54 L554.48,78.08 L555.39,77.64 L556.39,77.23 L557.45,76.84 L558.59,76.48 L559.79,76.14 L561.05,75.84 L562.38,75.57 L563.76,75.33 L565.19,75.12 L566.67,74.95 L568.2,74.81 L569.77,74.71 L571.37,74.64 L573,74.61 L574.66,74.62 L576.35,74.67 L578.05,74.75 L579.77,74.88 L581.49,75.04 L583.22,75.24 L584.94,75.48 L586.67,75.76 L588.38,76.07 L590.07,76.42 L591.75,76.81 L593.4,77.24 L595.02,77.7 L596.61,78.19 L598.17,78.72 L599.68,79.28 L601.14,79.87 L602.56,80.5 L603.92,81.15 L605.22,81.83 L606.46,82.53 L607.64,83.26 L608.75,84.01 L609.79,84.79 L610.75,85.58 L611.64,86.39 L612.45,87.22 L613.18,88.06 L613.82,88.91 L614.38,89.78 L614.86,90.65 L615.25,91.53 L615.54,92.41 L615.75,93.3 L615.87,94.18 L615.9,95.07" stroke="#000" stroke-width="7.4" fill="none" stroke-linecap="butt"/>
<path d="M549.9,83.4 L549.96,82.82 L550.11,82.24 L550.36,81.67 L550.69,81.12 L551.11,80.57 L551.61,80.04 L552.2,79.52 L552.88,79.02 L553.64,78.54 L554.48,78.08 L555.39,77.64 L556.39,77.23 L557.45,76.84 L558.59,76.48 L559.79,76.14 L561.05,75.84 L562.38,75.57 L563.76,75.33 L565.19,75.12 L566.67,74.95 L568.2,74.81 L569.77,74.71 L571.37,74.64 L573,74.61 L574.66,74.62 L576.35,74.67 L578.05,74.75 L579.77,74.88 L581.49,75.04 L583.22,75.24 L584.94,75.48 L586.67,75.76 L588.38,76.07 L590.07,76.42 L591.75,76.81 L593.4,77.24 L595.02,77.7 L596.61,78.19 L598.17,78.72 L599.68,79.28 L601.14,79.87 L602.56,80.5 L603.92,81.15 L605.22,81.83 L606.46,82.53 L607.64,83.26 L608.75,84.01 L609.79,84.79 L610.75,85.58 L611.64,86.39 L612.45,87.22 L613.18,88.06 L613.82,88.91 L614.38,89.78 L614.86,90.65 L615.25,91.53 L615.54,92.41 L615.75,93.3 L615.87,94.18 L615.9,95.07" stroke="#fff" stroke-width="3.6" fill="none" stroke-linecap="butt"/>
<path d="M549.9,68.41 L549.96,67.8 L550.11,67.2 L550.35,66.61 L550.68,66.03 L551.09,65.46 L551.6,64.9 L552.19,64.36 L552.86,63.83 L553.62,63.32 L554.45,62.84 L555.37,62.37 L556.36,61.93 L557.42,61.52 L558.56,61.13 L559.76,60.77 L561.02,60.44 L562.34,60.15 L563.72,59.88 L565.15,59.65 L566.63,59.45 L568.16,59.28 L569.72,59.15 L571.33,59.06 L572.96,59.01 L574.62,58.99 L576.3,59.01 L578.01,59.07 L579.72,59.17 L581.45,59.31 L583.17,59.48 L584.9,59.69 L586.62,59.94 L588.33,60.23 L590.03,60.56 L591.71,60.92 L593.36,61.32 L594.98,61.76 L596.57,62.23 L598.13,62.73 L599.64,63.26 L601.1,63.83 L602.52,64.43 L603.88,65.05 L605.19,65.71 L606.43,66.39 L607.61,67.09 L608.72,67.82 L609.76,68.56 L610.73,69.33 L611.62,70.12 L612.43,70.92 L613.16,71.74 L613.81,72.56 L614.37,73.4 L614.85,74.25 L615.24,75.1 L615.54,75.96 L615.75,76.82 L615.87,77.68 L615.9,78.54" stroke="#000" stroke-width="7.4" fill="none" stroke-linecap="butt"/>
<path d="M549.9,68.41 L549.96,67.8 L550.11,67.2 L550.35,66.61 L550.68,66.03 L551.09,65.46 L551.6,64.9 L552.19,64.36 L552.86,63.83 L553.62,63.32 L554.45,62.84 L555.37,62.37 L556.36,61.93 L557.42,61.52 L558.56,61.13 L559.76,60.77 L561.02,60.44 L562.34,60.15 L563.72,59.88 L565.15,59.65 L566.63,59.45 L568.16,59.28 L569.72,59.15 L571.33,59.06 L572.96,59.01 L574.62,58.99 L576.3,59.01 L578.01,59.07 L579.72,59.17 L581.45,59.31 L583.17,59.48 L584.9,59.69 L586.62,59.94 L588.33,60.23 L590.03,60.56 L591.71,60.92 L593.36,61.32 L594.98,61.76 L596.57,62.23 L598.13,62.73 L599.64,63.26 L601.1,63.83 L602.52,64.43 L603.88,65.05 L605.19,65.71 L606.43,66.39 L607.61,67.09 L608.72,67.82 L609.76,68.56 L610.73,69.33 L611.62,70.12 L612.43,70.92 L613.16,71.74 L613.81,72.56 L614.37,73.4 L614.85,74.25 L615.24,75.1 L615.54,75.96 L615.75,76.82 L615.87,77.68 L615.9,78.54" stroke="#fff" stroke-width="3.6" fill="none" stroke-linecap="butt"/>
<path d="M615.79,273.44 L615.89,274.22 L615.89,275 L615.81,275.77 L615.63,276.54 L615.36,277.3 L615.01,278.05 L614.57,278.79 L614.04,279.51 L613.42,280.22 L612.72,280.91 L611.94,281.59 L611.08,282.24 L610.15,282.86 L609.13,283.47 L608.05,284.04 L606.9,284.59 L605.68,285.12 L604.4,285.61 L603.06,286.07 L601.66,286.49 L600.22,286.89" stroke="#000" stroke-width="7.4" fill="none" stroke-linecap="butt"/>
<path d="M615.33,271.88 L615.61,272.66 L615.79,273.44 L615.89,274.22 L615.89,275 L615.81,275.77 L615.63,276.54 L615.36,277.3 L615.01,278.05 L614.57,278.79 L614.04,279.51 L613.42,280.22 L612.72,280.91 L611.94,281.59 L611.08,282.24 L610.15,282.86 L609.13,283.47 L608.05,284.04 L606.9,284.59 L605.68,285.12 L604.4,285.61 L603.06,286.07 L601.66,286.49 L600.22,286.89" stroke="#fff" stroke-width="3.6" fill="none" stroke-linecap="butt"/>
<path d="M615.79,263.2 L615.88,264.05 L615.89,264.91 L615.81,265.76 L615.64,266.61 L615.37,267.44 L615.02,268.27 L614.58,269.09 L614.05,269.89 L613.44,270.67 L612.74,271.44 L611.96,272.19 L611.11,272.92 L610.17,273.62 L609.16,274.3 L608.08,274.96 L606.93,275.59 L605.71,276.19 L604.43,276.75 L603.09,277.29 L601.7,277.8 L600.25,278.27 L598.76,278.71 L597.22,279.11 L595.65,279.47 L594.04,279.8 L592.4,280.1 L590.73,280.35 L589.04,280.57 L587.33,280.74 L585.62,280.88 L583.89,280.98 L582.16,281.05 L580.44,281.07 L578.72,281.06 L577.01,281.01 L575.32,280.92 L573.65,280.79 L572,280.63 L570.39,280.43 L568.8,280.2 L567.26,279.94 L565.76,279.64 L564.31,279.32 L562.91,278.96 L561.56,278.57 L560.27,278.16 L559.05,277.72 L557.88,277.26 L556.79,276.77 L555.77,276.27 L554.83,275.74 L553.96,275.2 L553.17,274.64 L552.46,274.07 L551.83,273.49 L551.29,272.89 L550.84,272.29 L550.47,271.68 L550.2,271.07 L550.01,270.46 L549.91,269.85 L549.91,269.2 L549.99,268.52 L550.17,267.84" stroke="#000" stroke-width="7.4" fill="none" stroke-linecap="butt"/>
<path d="M615.32,261.48 L615.6,262.34 L615.79,263.2 L615.88,264.05 L615.89,264.91 L615.81,265.76 L615.64,266.61 L615.37,267.44 L615.02,268.27 L614.58,269.09 L614.05,269.89 L613.44,270.67 L612.74,271.44 L611.96,272.19 L611.11,272.92 L610.17,273.62 L609.16,274.3 L608.08,274.96 L606.93,275.59 L605.71,276.19 L604.43,276.75 L603.09,277.29 L601.7,277.8 L600.25,278.27 L598.76,278.71 L597.22,279.11 L595.65,279.47 L594.04,279.8 L592.4,280.1 L590.73,280.35 L589.04,280.57 L587.33,280.74 L585.62,280.88 L583.89,280.98 L582.16,281.05 L580.44,281.07 L578.72,281.06 L577.01,281.01 L575.32,280.92 L573.65,280.79 L572,280.63 L570.39,280.43 L568.8,280.2 L567.26,279.94 L565.76,279.64 L564.31,279.32 L562.91,278.96 L561.56,278.57 L560.27,278.16 L559.05,277.72 L557.88,277.26 L556.79,276.77 L555.77,276.27 L554.83,275.74 L553.96,275.2 L553.17,274.64 L552.46,274.07 L551.83,273.49 L551.29,272.89 L550.84,272.29 L550.47,271.68 L550.2,271.07 L550.01,270.46 L549.91,269.85 L549.91,269.2 L549.99,268.52 L550.17,267.84 L550.43,267.17 L550.79,266.51" stroke="#fff" stroke-width="3.6" fill="none" stroke-linecap="butt"/>
<path d="M615.78,246.37 L615.88,247.26 L615.89,248.15 L615.81,249.04 L615.64,249.92 L615.38,250.79 L615.03,251.65 L614.59,252.5 L614.07,253.34 L613.46,254.16 L612.76,254.96 L611.99,255.74 L611.13,256.51 L610.2,257.25 L609.19,257.96 L608.11,258.65 L606.96,259.31 L605.74,259.95 L604.47,260.55 L603.13,261.12 L601.74,261.66 L600.29,262.17 L598.8,262.64 L597.26,263.08 L595.69,263.48 L594.08,263.84 L592.44,264.17 L590.77,264.46 L589.08,264.71 L587.38,264.93 L585.66,265.1 L583.93,265.24 L582.21,265.33 L580.48,265.39 L578.76,265.42 L577.05,265.4 L575.36,265.35 L573.69,265.26 L572.04,265.13 L570.43,264.97 L568.84,264.77 L567.3,264.54 L565.8,264.28 L564.35,263.99 L562.94,263.67 L561.59,263.32 L560.3,262.94 L559.08,262.53 L557.91,262.11 L556.82,261.66 L555.8,261.18 L554.85,260.69 L553.98,260.19 L553.19,259.66 L552.47,259.13 L551.85,258.58 L551.31,258.02 L550.85,257.45 L550.48,256.88 L550.2,256.3 L550.01,255.72 L549.92,255.14 L549.91,254.55 L549.99,253.94 L550.16,253.34" stroke="#000" stroke-width="7.4" fill="none" stroke-linecap="butt"/>
<path d="M615.31,244.59 L615.59,245.48 L615.78,246.37 L615.88,247.26 L615.89,248.15 L615.81,249.04 L615.64,249.92 L615.38,250.79 L615.03,251.65 L614.59,252.5 L614.07,253.34 L613.46,254.16 L612.76,254.96 L611.99,255.74 L611.13,256.51 L610.2,257.25 L609.19,257.96 L608.11,258.65 L606.96,259.31 L605.74,259.95 L604.47,260.55 L603.13,261.12 L601.74,261.66 L600.29,262.17 L598.8,262.64 L597.26,263.08 L595.69,263.48 L594.08,263.84 L592.44,264.17 L590.77,264.46 L589.08,264.71 L587.38,264.93 L585.66,265.1 L583.93,265.24 L582.21,265.33 L580.48,265.39 L578.76,265.42 L577.05,265.4 L575.36,265.35 L573.69,265.26 L572.04,265.13 L570.43,264.97 L568.84,264.77 L567.3,264.54 L565.8,264.28 L564.35,263.99 L562.94,263.67 L561.59,263.32 L560.3,262.94 L559.08,262.53 L557.91,262.11 L556.82,261.66 L555.8,261.18 L554.85,260.69 L553.98,260.19 L553.19,259.66 L552.47,259.13 L551.85,258.58 L551.31,258.02 L550.85,257.45 L550.48,256.88 L550.2,256.3 L550.01,255.72 L549.92,255.14 L549.91,254.55 L549.99,253.94 L550.16,253.34 L550.42,252.75 L550.78,252.17" stroke="#fff" stroke-width="3.6" fill="none" stroke-linecap="butt"/>
<path d="M615.78,227.6 L615.88,228.49 L615.89,229.38 L615.82,230.26 L615.65,231.14 L615.39,232.01 L615.04,232.88 L614.6,233.72 L614.08,234.56 L613.47,235.38 L612.78,236.18 L612.01,236.97 L611.15,237.73 L610.22,238.47 L609.21,239.18 L608.14,239.87 L606.99,240.53 L605.78,241.17 L604.5,241.77 L603.16,242.34 L601.77,242.88 L600.33,243.39 L598.84,243.86 L597.3,244.3 L595.73,244.7 L594.12,245.07 L592.48,245.39 L590.81,245.68 L589.13,245.94 L587.42,246.15 L585.7,246.32 L583.98,246.46 L582.25,246.56 L580.52,246.62 L578.8,246.64 L577.1,246.62 L575.4,246.57 L573.73,246.48 L572.09,246.35 L570.47,246.19 L568.88,246 L567.34,245.77 L565.84,245.51 L564.38,245.21 L562.98,244.89 L561.63,244.54 L560.34,244.16 L559.11,243.76 L557.94,243.33 L556.85,242.88 L555.82,242.41 L554.87,241.92 L554,241.41 L553.2,240.88 L552.49,240.35 L551.86,239.8 L551.32,239.24 L550.86,238.67 L550.49,238.09 L550.21,237.52 L550.02,236.94 L549.92,236.36 L549.91,235.78 L549.99,235.21 L550.16,234.64" stroke="#000" stroke-width="7.4" fill="none" stroke-linecap="butt"/>
<path d="M615.31,225.82 L615.59,226.71 L615.78,227.6 L615.88,228.49 L615.89,229.38 L615.82,230.26 L615.65,231.14 L615.39,232.01 L615.04,232.88 L614.6,233.72 L614.08,234.56 L613.47,235.38 L612.78,236.18 L612.01,236.97 L611.15,237.73 L610.22,238.47 L609.21,239.18 L608.14,239.87 L606.99,240.53 L605.78,241.17 L604.5,241.77 L603.16,242.34 L601.77,242.88 L600.33,243.39 L598.84,243.86 L597.3,244.3 L595.73,244.7 L594.12,245.07 L592.48,245.39 L590.81,245.68 L589.13,245.94 L587.42,246.15 L585.7,246.32 L583.98,246.46 L582.25,246.56 L580.52,246.62 L578.8,246.64 L577.1,246.62 L575.4,246.57 L573.73,246.48 L572.09,246.35 L570.47,246.19 L568.88,246 L567.34,245.77 L565.84,245.51 L564.38,245.21 L562.98,244.89 L561.63,244.54 L560.34,244.16 L559.11,243.76 L557.94,243.33 L556.85,242.88 L555.82,242.41 L554.87,241.92 L554,241.41 L553.2,240.88 L552.49,240.35 L551.86,239.8 L551.32,239.24 L550.86,238.67 L550.49,238.09 L550.21,237.52 L550.02,236.94 L549.92,236.36 L549.91,235.78 L549.99,235.21 L550.16,234.64 L550.42,234.08 L550.77,233.53" stroke="#fff" stroke-width="3.6" fill="none" stroke-linecap="butt"/>
<path d="M615.78,208.82 L615.88,209.72 L615.89,210.61 L615.82,211.49 L615.65,212.37 L615.4,213.24 L615.05,214.11 L614.62,214.96 L614.1,215.79 L613.49,216.62 L612.8,217.42 L612.03,218.2 L611.18,218.97 L610.25,219.71 L609.24,220.43 L608.16,221.12 L607.02,221.78 L605.81,222.41 L604.53,223.02 L603.2,223.59 L601.81,224.14 L600.37,224.64 L598.88,225.12 L597.34,225.56 L595.77,225.96 L594.16,226.33 L592.52,226.66 L590.86,226.95 L589.17,227.2 L587.47,227.42 L585.75,227.59 L584.02,227.73 L582.3,227.83 L580.57,227.89 L578.85,227.92 L577.14,227.9 L575.45,227.85 L573.77,227.76 L572.13,227.64 L570.51,227.48 L568.92,227.28 L567.38,227.06 L565.88,226.8 L564.42,226.51 L563.01,226.18 L561.66,225.84 L560.37,225.46 L559.14,225.06 L557.97,224.63 L556.87,224.18 L555.85,223.71 L554.9,223.22 L554.02,222.71 L553.22,222.19 L552.51,221.65 L551.88,221.1 L551.33,220.55 L550.87,219.98 L550.5,219.41 L550.22,218.83 L550.02,218.25 L549.92,217.67 L549.91,217.09 L549.98,216.52 L550.15,215.95" stroke="#000" stroke-width="7.4" fill="none" stroke-linecap="butt"/>
<path d="M615.3,207.04 L615.58,207.93 L615.78,208.82 L615.88,209.72 L615.89,210.61 L615.82,211.49 L615.65,212.37 L615.4,213.24 L615.05,214.11 L614.62,214.96 L614.1,215.79 L613.49,216.62 L612.8,217.42 L612.03,218.2 L611.18,218.97 L610.25,219.71 L609.24,220.43 L608.16,221.12 L607.02,221.78 L605.81,222.41 L604.53,223.02 L603.2,223.59 L601.81,224.14 L600.37,224.64 L598.88,225.12 L597.34,225.56 L595.77,225.96 L594.16,226.33 L592.52,226.66 L590.86,226.95 L589.17,227.2 L587.47,227.42 L585.75,227.59 L584.02,227.73 L582.3,227.83 L580.57,227.89 L578.85,227.92 L577.14,227.9 L575.45,227.85 L573.77,227.76 L572.13,227.64 L570.51,227.48 L568.92,227.28 L567.38,227.06 L565.88,226.8 L564.42,226.51 L563.01,226.18 L561.66,225.84 L560.37,225.46 L559.14,225.06 L557.97,224.63 L556.87,224.18 L555.85,223.71 L554.9,223.22 L554.02,222.71 L553.22,222.19 L552.51,221.65 L551.88,221.1 L551.33,220.55 L550.87,219.98 L550.5,219.41 L550.22,218.83 L550.02,218.25 L549.92,217.67 L549.91,217.09 L549.98,216.52 L550.15,215.95 L550.41,215.39 L550.76,214.84" stroke="#fff" stroke-width="3.6" fill="none" stroke-linecap="butt"/>
<path d="M615.77,189.64 L615.88,190.54 L615.9,191.43 L615.82,192.33 L615.66,193.21 L615.4,194.09 L615.06,194.96 L614.63,195.82 L614.11,196.66 L613.51,197.49 L612.82,198.3 L612.05,199.09 L611.2,199.86 L610.27,200.61 L609.27,201.33 L608.19,202.03 L607.05,202.7 L605.84,203.34 L604.57,203.95 L603.23,204.53 L601.84,205.08 L600.4,205.59 L598.92,206.08 L597.38,206.52 L595.81,206.93 L594.2,207.3 L592.57,207.64 L590.9,207.94 L589.21,208.2 L587.51,208.42 L585.79,208.6 L584.07,208.75 L582.34,208.86 L580.61,208.92 L578.89,208.95 L577.18,208.95 L575.49,208.9 L573.82,208.82 L572.17,208.7 L570.55,208.55 L568.96,208.36 L567.42,208.14 L565.91,207.89 L564.46,207.6 L563.05,207.29 L561.7,206.95 L560.4,206.58 L559.17,206.18 L558,205.76 L556.9,205.32 L555.87,204.85 L554.92,204.37 L554.04,203.87 L553.24,203.35 L552.53,202.82 L551.89,202.28 L551.34,201.73 L550.88,201.17 L550.51,200.6 L550.22,200.03 L550.03,199.46 L549.92,198.88 L549.9,198.31 L549.98,197.74 L550.15,197.17" stroke="#000" stroke-width="7.4" fill="none" stroke-linecap="butt"/>
<path d="M615.29,187.85 L615.58,188.74 L615.77,189.64 L615.88,190.54 L615.9,191.43 L615.82,192.33 L615.66,193.21 L615.4,194.09 L615.06,194.96 L614.63,195.82 L614.11,196.66 L613.51,197.49 L612.82,198.3 L612.05,199.09 L611.2,199.86 L610.27,200.61 L609.27,201.33 L608.19,202.03 L607.05,202.7 L605.84,203.34 L604.57,203.95 L603.23,204.53 L601.84,205.08 L600.4,205.59 L598.92,206.08 L597.38,206.52 L595.81,206.93 L594.2,207.3 L592.57,207.64 L590.9,207.94 L589.21,208.2 L587.51,208.42 L585.79,208.6 L584.07,208.75 L582.34,208.86 L580.61,208.92 L578.89,208.95 L577.18,208.95 L575.49,208.9 L573.82,208.82 L572.17,208.7 L570.55,208.55 L568.96,208.36 L567.42,208.14 L565.91,207.89 L564.46,207.6 L563.05,207.29 L561.7,206.95 L560.4,206.58 L559.17,206.18 L558,205.76 L556.9,205.32 L555.87,204.85 L554.92,204.37 L554.04,203.87 L553.24,203.35 L552.53,202.82 L551.89,202.28 L551.34,201.73 L550.88,201.17 L550.51,200.6 L550.22,200.03 L550.03,199.46 L549.92,198.88 L549.9,198.31 L549.98,197.74 L550.15,197.17 L550.4,196.61 L550.75,196.06" stroke="#fff" stroke-width="3.6" fill="none" stroke-linecap="butt"/>
<path d="M615.77,169.76 L615.88,170.66 L615.9,171.56 L615.82,172.46 L615.66,173.35 L615.41,174.24 L615.07,175.11 L614.64,175.98 L614.12,176.83 L613.52,177.66 L612.84,178.48 L612.07,179.27 L611.22,180.05 L610.3,180.8 L609.29,181.53 L608.22,182.24 L607.08,182.91 L605.87,183.56 L604.6,184.18 L603.27,184.77 L601.88,185.32 L600.44,185.84 L598.95,186.33 L597.42,186.78 L595.85,187.2 L594.25,187.58 L592.61,187.92 L590.94,188.23 L589.26,188.5 L587.55,188.72 L585.84,188.91 L584.11,189.07 L582.38,189.18 L580.66,189.25 L578.94,189.29 L577.23,189.29 L575.53,189.25 L573.86,189.18 L572.21,189.07 L570.59,188.92 L569,188.74 L567.46,188.53 L565.95,188.28 L564.49,188 L563.08,187.7 L561.73,187.36 L560.43,187 L559.2,186.61 L558.03,186.19 L556.93,185.76 L555.9,185.3 L554.94,184.82 L554.06,184.33 L553.26,183.82 L552.54,183.29 L551.91,182.75 L551.36,182.21 L550.89,181.65 L550.52,181.09 L550.23,180.53 L550.03,179.96 L549.92,179.39 L549.9,178.83 L549.98,178.26 L550.14,177.7" stroke="#000" stroke-width="7.4" fill="none" stroke-linecap="butt"/>
<path d="M615.28,167.95 L615.57,168.85 L615.77,169.76 L615.88,170.66 L615.9,171.56 L615.82,172.46 L615.66,173.35 L615.41,174.24 L615.07,175.11 L614.64,175.98 L614.12,176.83 L613.52,177.66 L612.84,178.48 L612.07,179.27 L611.22,180.05 L610.3,180.8 L609.29,181.53 L608.22,182.24 L607.08,182.91 L605.87,183.56 L604.6,184.18 L603.27,184.77 L601.88,185.32 L600.44,185.84 L598.95,186.33 L597.42,186.78 L595.85,187.2 L594.25,187.58 L592.61,187.92 L590.94,188.23 L589.26,188.5 L587.55,188.72 L585.84,188.91 L584.11,189.07 L582.38,189.18 L580.66,189.25 L578.94,189.29 L577.23,189.29 L575.53,189.25 L573.86,189.18 L572.21,189.07 L570.59,188.92 L569,188.74 L567.46,188.53 L565.95,188.28 L564.49,188 L563.08,187.7 L561.73,187.36 L560.43,187 L559.2,186.61 L558.03,186.19 L556.93,185.76 L555.9,185.3 L554.94,184.82 L554.06,184.33 L553.26,183.82 L552.54,183.29 L551.91,182.75 L551.36,182.21 L550.89,181.65 L550.52,181.09 L550.23,180.53 L550.03,179.96 L549.92,179.39 L549.9,178.83 L549.98,178.26 L550.14,177.7 L550.39,177.14 L550.74,176.6" stroke="#fff" stroke-width="3.6" fill="none" stroke-linecap="butt"/>
<path d="M615.76,150.15 L615.88,151.05 L615.9,151.94 L615.83,152.83 L615.67,153.71 L615.42,154.58 L615.08,155.45 L614.65,156.3 L614.14,157.14 L613.54,157.97 L612.86,158.77 L612.09,159.56 L611.24,160.33 L610.32,161.07 L609.32,161.79 L608.25,162.49 L607.11,163.15 L605.9,163.79 L604.63,164.4 L603.3,164.98 L601.92,165.53 L600.48,166.04 L598.99,166.52 L597.46,166.96 L595.89,167.37 L594.29,167.74 L592.65,168.07 L590.99,168.37 L589.3,168.63 L587.6,168.85 L585.88,169.03 L584.16,169.17 L582.43,169.27 L580.7,169.34 L578.98,169.37 L577.27,169.36 L575.58,169.31 L573.9,169.23 L572.25,169.11 L570.63,168.95 L569.05,168.76 L567.5,168.54 L565.99,168.28 L564.53,168 L563.12,167.68 L561.76,167.34 L560.47,166.96 L559.23,166.56 L558.06,166.14 L556.96,165.69 L555.92,165.23 L554.97,164.74 L554.08,164.24 L553.28,163.72 L552.56,163.18 L551.92,162.64 L551.37,162.08 L550.9,161.51 L550.52,160.94 L550.23,160.37 L550.03,159.79 L549.92,159.21 L549.9,158.64 L549.97,158.08 L550.13,157.52" stroke="#000" stroke-width="7.4" fill="none" stroke-linecap="butt"/>
<path d="M615.27,148.37 L615.56,149.26 L615.76,150.15 L615.88,151.05 L615.9,151.94 L615.83,152.83 L615.67,153.71 L615.42,154.58 L615.08,155.45 L614.65,156.3 L614.14,157.14 L613.54,157.97 L612.86,158.77 L612.09,159.56 L611.24,160.33 L610.32,161.07 L609.32,161.79 L608.25,162.49 L607.11,163.15 L605.9,163.79 L604.63,164.4 L603.3,164.98 L601.92,165.53 L600.48,166.04 L598.99,166.52 L597.46,166.96 L595.89,167.37 L594.29,167.74 L592.65,168.07 L590.99,168.37 L589.3,168.63 L587.6,168.85 L585.88,169.03 L584.16,169.17 L582.43,169.27 L580.7,169.34 L578.98,169.37 L577.27,169.36 L575.58,169.31 L573.9,169.23 L572.25,169.11 L570.63,168.95 L569.05,168.76 L567.5,168.54 L565.99,168.28 L564.53,168 L563.12,167.68 L561.76,167.34 L560.47,166.96 L559.23,166.56 L558.06,166.14 L556.96,165.69 L555.92,165.23 L554.97,164.74 L554.08,164.24 L553.28,163.72 L552.56,163.18 L551.92,162.64 L551.37,162.08 L550.9,161.51 L550.52,160.94 L550.23,160.37 L550.03,159.79 L549.92,159.21 L549.9,158.64 L549.97,158.08 L550.13,157.52 L550.39,156.98 L550.73,156.44" stroke="#fff" stroke-width="3.6" fill="none" stroke-linecap="butt"/>
<path d="M615.76,131.23 L615.87,132.12 L615.9,133.01 L615.83,133.9 L615.67,134.78 L615.43,135.66 L615.09,136.52 L614.66,137.37 L614.15,138.21 L613.56,139.03 L612.87,139.84 L612.11,140.62 L611.27,141.39 L610.34,142.13 L609.35,142.85 L608.28,143.55 L607.14,144.21 L605.93,144.85 L604.67,145.46 L603.34,146.04 L601.95,146.58 L600.52,147.09 L599.03,147.57 L597.5,148.01 L595.93,148.42 L594.33,148.79 L592.69,149.12 L591.03,149.42 L589.34,149.68 L587.64,149.9 L585.92,150.08 L584.2,150.22 L582.47,150.32 L580.75,150.39 L579.02,150.41 L577.31,150.4 L575.62,150.36 L573.94,150.27 L572.29,150.15 L570.67,149.99 L569.09,149.8 L567.54,149.58 L566.03,149.32 L564.57,149.04 L563.16,148.72 L561.8,148.37 L560.5,148 L559.26,147.6 L558.09,147.17 L556.98,146.73 L555.95,146.26 L554.99,145.77 L554.11,145.27 L553.3,144.74 L552.58,144.21 L551.94,143.66 L551.38,143.1 L550.91,142.54 L550.53,141.97 L550.24,141.39 L550.04,140.81 L549.93,140.23 L549.9,139.65 L549.97,139.08 L550.13,138.52" stroke="#000" stroke-width="7.4" fill="none" stroke-linecap="butt"/>
<path d="M615.26,129.45 L615.56,130.34 L615.76,131.23 L615.87,132.12 L615.9,133.01 L615.83,133.9 L615.67,134.78 L615.43,135.66 L615.09,136.52 L614.66,137.37 L614.15,138.21 L613.56,139.03 L612.87,139.84 L612.11,140.62 L611.27,141.39 L610.34,142.13 L609.35,142.85 L608.28,143.55 L607.14,144.21 L605.93,144.85 L604.67,145.46 L603.34,146.04 L601.95,146.58 L600.52,147.09 L599.03,147.57 L597.5,148.01 L595.93,148.42 L594.33,148.79 L592.69,149.12 L591.03,149.42 L589.34,149.68 L587.64,149.9 L585.92,150.08 L584.2,150.22 L582.47,150.32 L580.75,150.39 L579.02,150.41 L577.31,150.4 L575.62,150.36 L573.94,150.27 L572.29,150.15 L570.67,149.99 L569.09,149.8 L567.54,149.58 L566.03,149.32 L564.57,149.04 L563.16,148.72 L561.8,148.37 L560.5,148 L559.26,147.6 L558.09,147.17 L556.98,146.73 L555.95,146.26 L554.99,145.77 L554.11,145.27 L553.3,144.74 L552.58,144.21 L551.94,143.66 L551.38,143.1 L550.91,142.54 L550.53,141.97 L550.24,141.39 L550.04,140.81 L549.93,140.23 L549.9,139.65 L549.97,139.08 L550.13,138.52 L550.38,137.96 L550.72,137.41" stroke="#fff" stroke-width="3.6" fill="none" stroke-linecap="butt"/>
<path d="M615.76,112.05 L615.87,112.95 L615.9,113.84 L615.83,114.74 L615.68,115.62 L615.43,116.5 L615.1,117.37 L614.68,118.23 L614.17,119.07 L613.57,119.9 L612.89,120.72 L612.13,121.51 L611.29,122.28 L610.37,123.03 L609.37,123.76 L608.31,124.46 L607.17,125.13 L605.97,125.77 L604.7,126.39 L603.37,126.97 L601.99,127.52 L600.55,128.04 L599.07,128.53 L597.54,128.98 L595.97,129.39 L594.37,129.77 L592.73,130.11 L591.07,130.41 L589.39,130.67 L587.68,130.9 L585.97,131.09 L584.24,131.24 L582.52,131.35 L580.79,131.42 L579.07,131.45 L577.36,131.45 L575.66,131.41 L573.99,131.33 L572.34,131.22 L570.71,131.07 L569.13,130.88 L567.57,130.67 L566.07,130.42 L564.6,130.13 L563.19,129.82 L561.83,129.48 L560.53,129.12 L559.29,128.72 L558.12,128.3 L557.01,127.86 L555.97,127.4 L555.01,126.92 L554.13,126.42 L553.32,125.91 L552.6,125.38 L551.95,124.84 L551.4,124.28 L550.93,123.72 L550.54,123.16 L550.25,122.59 L550.04,122.01 L549.93,121.44 L549.9,120.87 L549.97,120.29 L550.12,119.73" stroke="#000" stroke-width="7.4" fill="none" stroke-linecap="butt"/>
<path d="M615.25,110.25 L615.55,111.15 L615.76,112.05 L615.87,112.95 L615.9,113.84 L615.83,114.74 L615.68,115.62 L615.43,116.5 L615.1,117.37 L614.68,118.23 L614.17,119.07 L613.57,119.9 L612.89,120.72 L612.13,121.51 L611.29,122.28 L610.37,123.03 L609.37,123.76 L608.31,124.46 L607.17,125.13 L605.97,125.77 L604.7,126.39 L603.37,126.97 L601.99,127.52 L600.55,128.04 L599.07,128.53 L597.54,128.98 L595.97,129.39 L594.37,129.77 L592.73,130.11 L591.07,130.41 L589.39,130.67 L587.68,130.9 L585.97,131.09 L584.24,131.24 L582.52,131.35 L580.79,131.42 L579.07,131.45 L577.36,131.45 L575.66,131.41 L573.99,131.33 L572.34,131.22 L570.71,131.07 L569.13,130.88 L567.57,130.67 L566.07,130.42 L564.6,130.13 L563.19,129.82 L561.83,129.48 L560.53,129.12 L559.29,128.72 L558.12,128.3 L557.01,127.86 L555.97,127.4 L555.01,126.92 L554.13,126.42 L553.32,125.91 L552.6,125.38 L551.95,124.84 L551.4,124.28 L550.93,123.72 L550.54,123.16 L550.25,122.59 L550.04,122.01 L549.93,121.44 L549.9,120.87 L549.97,120.29 L550.12,119.73 L550.37,119.17 L550.71,118.62" stroke="#fff" stroke-width="3.6" fill="none" stroke-linecap="butt"/>
<path d="M615.75,93.3 L615.87,94.18 L615.9,95.07 L615.84,95.95 L615.68,96.82 L615.44,97.69 L615.11,98.55 L614.69,99.39 L614.18,100.23 L613.59,101.04 L612.91,101.84 L612.15,102.62 L611.31,103.38 L610.39,104.12 L609.4,104.84 L608.33,105.52 L607.2,106.19 L606,106.82 L604.73,107.42 L603.41,107.99 L602.02,108.53 L600.59,109.04 L599.11,109.51 L597.58,109.95 L596.01,110.35 L594.41,110.72 L592.78,111.05 L591.11,111.34 L589.43,111.59 L587.73,111.8 L586.01,111.98 L584.29,112.12 L582.56,112.22 L580.83,112.28 L579.11,112.3 L577.4,112.28 L575.71,112.23 L574.03,112.14 L572.38,112.02 L570.76,111.86 L569.17,111.66 L567.61,111.43 L566.1,111.17 L564.64,110.88 L563.23,110.55 L561.87,110.2 L560.56,109.82 L559.32,109.42 L558.15,108.99 L557.04,108.54 L556,108.06 L555.04,107.57 L554.15,107.06 L553.34,106.53 L552.61,105.99 L551.97,105.43 L551.41,104.87 L550.94,104.3 L550.55,103.72 L550.25,103.14 L550.05,102.55 L549.93,101.97 L549.9,101.38 L549.97,100.82 L550.12,100.25" stroke="#000" stroke-width="7.4" fill="none" stroke-linecap="butt"/>
<path d="M615.25,91.53 L615.54,92.41 L615.75,93.3 L615.87,94.18 L615.9,95.07 L615.84,95.95 L615.68,96.82 L615.44,97.69 L615.11,98.55 L614.69,99.39 L614.18,100.23 L613.59,101.04 L612.91,101.84 L612.15,102.62 L611.31,103.38 L610.39,104.12 L609.4,104.84 L608.33,105.52 L607.2,106.19 L606,106.82 L604.73,107.42 L603.41,107.99 L602.02,108.53 L600.59,109.04 L599.11,109.51 L597.58,109.95 L596.01,110.35 L594.41,110.72 L592.78,111.05 L591.11,111.34 L589.43,111.59 L587.73,111.8 L586.01,111.98 L584.29,112.12 L582.56,112.22 L580.83,112.28 L579.11,112.3 L577.4,112.28 L575.71,112.23 L574.03,112.14 L572.38,112.02 L570.76,111.86 L569.17,111.66 L567.61,111.43 L566.1,111.17 L564.64,110.88 L563.23,110.55 L561.87,110.2 L560.56,109.82 L559.32,109.42 L558.15,108.99 L557.04,108.54 L556,108.06 L555.04,107.57 L554.15,107.06 L553.34,106.53 L552.61,105.99 L551.97,105.43 L551.41,104.87 L550.94,104.3 L550.55,103.72 L550.25,103.14 L550.05,102.55 L549.93,101.97 L549.9,101.38 L549.97,100.82 L550.12,100.25 L550.36,99.7 L550.7,99.16" stroke="#fff" stroke-width="3.6" fill="none" stroke-linecap="butt"/>
<path d="M615.75,76.82 L615.87,77.68 L615.9,78.54 L615.84,79.4 L615.69,80.25 L615.45,81.09 L615.12,81.92 L614.7,82.74 L614.2,83.55 L613.6,84.34 L612.93,85.12 L612.17,85.87 L611.33,86.61 L610.42,87.32 L609.43,88.01 L608.36,88.68 L607.23,89.31 L606.03,89.92 L604.76,90.5 L603.44,91.05 L602.06,91.57 L600.63,92.05 L599.15,92.5 L597.62,92.91 L596.05,93.29 L594.45,93.63 L592.82,93.93 L591.16,94.2 L589.47,94.43 L587.77,94.62 L586.06,94.77 L584.33,94.89 L582.6,94.96 L580.88,95 L579.16,94.99 L577.45,94.96 L575.75,94.88 L574.07,94.77 L572.42,94.62 L570.8,94.43 L569.21,94.21 L567.65,93.96 L566.14,93.67 L564.68,93.36 L563.26,93.01 L561.9,92.63 L560.6,92.23 L559.35,91.8 L558.18,91.35 L557.07,90.87 L556.03,90.37 L555.06,89.85 L554.17,89.32 L553.36,88.76 L552.63,88.2 L551.98,87.62 L551.42,87.03 L550.95,86.43 L550.56,85.83 L550.26,85.22 L550.05,84.61 L549.93,84 L549.9,83.4 L549.96,82.82 L550.11,82.24" stroke="#000" stroke-width="7.4" fill="none" stroke-linecap="butt"/>
<path d="M615.24,75.1 L615.54,75.96 L615.75,76.82 L615.87,77.68 L615.9,78.54 L615.84,79.4 L615.69,80.25 L615.45,81.09 L615.12,81.92 L614.7,82.74 L614.2,83.55 L613.6,84.34 L612.93,85.12 L612.17,85.87 L611.33,86.61 L610.42,87.32 L609.43,88.01 L608.36,88.68 L607.23,89.31 L606.03,89.92 L604.76,90.5 L603.44,91.05 L602.06,91.57 L600.63,92.05 L599.15,92.5 L597.62,92.91 L596.05,93.29 L594.45,93.63 L592.82,93.93 L591.16,94.2 L589.47,94.43 L587.77,94.62 L586.06,94.77 L584.33,94.89 L582.6,94.96 L580.88,95 L579.16,94.99 L577.45,94.96 L575.75,94.88 L574.07,94.77 L572.42,94.62 L570.8,94.43 L569.21,94.21 L567.65,93.96 L566.14,93.67 L564.68,93.36 L563.26,93.01 L561.9,92.63 L560.6,92.23 L559.35,91.8 L558.18,91.35 L557.07,90.87 L556.03,90.37 L555.06,89.85 L554.17,89.32 L553.36,88.76 L552.63,88.2 L551.98,87.62 L551.42,87.03 L550.95,86.43 L550.56,85.83 L550.26,85.22 L550.05,84.61 L549.93,84 L549.9,83.4 L549.96,82.82 L550.11,82.24 L550.36,81.67 L550.69,81.12" stroke="#fff" stroke-width="3.6" fill="none" stroke-linecap="butt"/>
<path d="M560.63,82.52 L559.38,81.76 L558.21,80.97 L557.09,80.16 L556.05,79.33 L555.08,78.48 L554.19,77.61 L553.38,76.73 L552.65,75.83 L552,74.92 L551.44,74 L550.96,73.07 L550.57,72.13 L550.27,71.19 L550.05,70.24 L549.93,69.3 L549.9,68.41 L549.96,67.8 L550.11,67.2" stroke="#000" stroke-width="7.4" fill="none" stroke-linecap="butt"/>
<path d="M560.63,82.52 L559.38,81.76 L558.21,80.97 L557.09,80.16 L556.05,79.33 L555.08,78.48 L554.19,77.61 L553.38,76.73 L552.65,75.83 L552,74.92 L551.44,74 L550.96,73.07 L550.57,72.13 L550.27,71.19 L550.05,70.24 L549.93,69.3 L549.9,68.41 L549.96,67.8 L550.11,67.2 L550.35,66.61 L550.68,66.03" stroke="#fff" stroke-width="3.6" fill="none" stroke-linecap="butt"/>
<ellipse cx="560.63" cy="82.52" rx="3" ry="3" fill="#fff" stroke="#000" stroke-width="1.5"/>
<ellipse cx="600.22" cy="286.89" rx="3" ry="3" fill="#fff" stroke="#000" stroke-width="1.5"/>
</svg>
</body></html>
